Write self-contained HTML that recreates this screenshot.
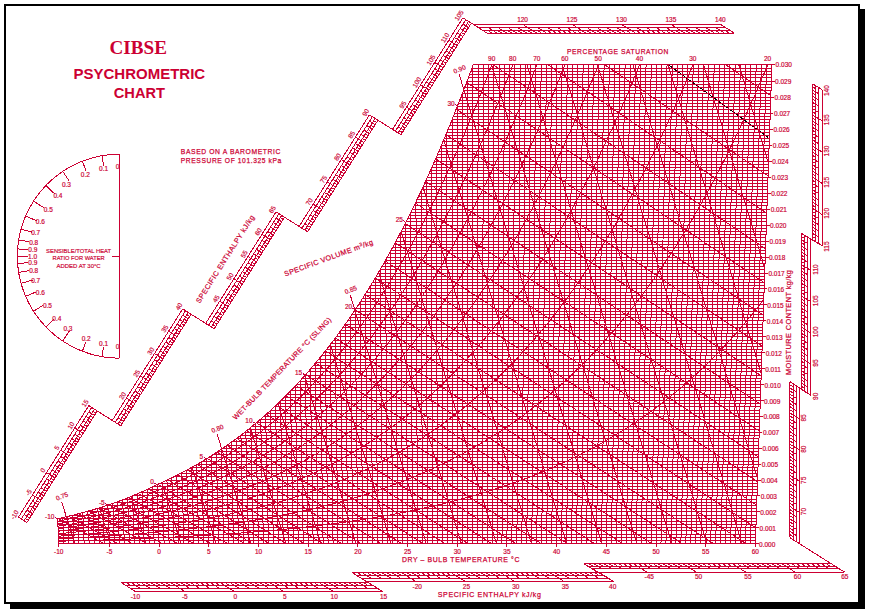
<!DOCTYPE html>
<html><head><meta charset="utf-8"><title>CIBSE Psychrometric Chart</title>
<style>
html,body{margin:0;padding:0;background:#fff;}
body{width:869px;height:611px;overflow:hidden;position:relative;}
svg{position:absolute;left:0;top:0;display:block;}
svg text{font-family:"Liberation Sans",sans-serif;fill:#CC0033;stroke:#CC0033;stroke-width:0.18px;}
svg text.sb{stroke:#CC0033;stroke-width:0.25px;letter-spacing:0.7px;}
svg text.t{stroke:none;}
svg text.rt{stroke-width:0.22px;}
</style></head><body>
<svg width="869" height="611" viewBox="0 0 869 611">
<rect x="0" y="0" width="869" height="611" fill="#fff"/>
<rect x="860" y="9" width="5" height="600" fill="#000"/>
<rect x="10" y="604" width="855" height="5" fill="#000"/>
<rect x="5" y="5" width="854" height="598" fill="#fff" stroke="#000" stroke-width="2"/>
<g fill="none" stroke="#CC0033" stroke-width="1" shape-rendering="crispEdges">
<defs><clipPath id="cp"><polygon points="57.63,518.75 60.14,518.19 62.66,517.62 65.17,517.04 67.69,516.44 70.2,515.84 72.72,515.22 75.23,514.58 77.75,513.94 80.26,513.28 82.77,512.61 85.29,511.92 87.8,511.23 90.31,510.51 92.83,509.78 95.34,509.04 97.85,508.29 100.37,507.51 102.88,506.73 105.39,505.92 107.9,505.1 110.36,504.26 112.82,503.4 115.29,502.52 117.75,501.63 120.21,500.71 122.67,499.78 125.13,498.83 127.59,497.86 130.05,496.88 132.51,495.87 134.97,494.84 137.43,493.8 139.89,492.73 142.35,491.64 144.81,490.53 147.26,489.4 149.72,488.24 152.18,487.06 154.64,485.87 157.1,484.64 159.56,483.54 162.03,482.42 164.49,481.28 166.95,480.13 169.42,478.95 171.88,477.76 174.34,476.54 176.81,475.31 179.27,474.05 181.74,472.78 184.2,471.48 186.66,470.17 189.13,468.83 191.59,467.47 194.06,466.08 196.52,464.68 198.99,463.25 201.45,461.8 203.91,460.33 206.38,458.83 208.85,457.3 211.31,455.76 213.78,454.19 216.24,452.59 218.71,450.97 221.17,449.32 223.64,447.65 226.11,445.94 228.57,444.22 231.04,442.46 233.51,440.68 235.98,438.87 238.45,437.03 240.91,435.16 243.38,433.26 245.85,431.33 248.32,429.37 250.79,427.39 253.26,425.37 255.74,423.32 258.21,421.23 260.68,419.12 263.15,416.97 265.62,414.79 268.1,412.57 270.57,410.32 273.05,408.04 275.52,405.72 278,403.37 280.47,400.98 282.95,398.55 285.43,396.09 287.91,393.58 290.39,391.04 292.87,388.47 295.35,385.85 297.83,383.19 300.31,380.49 302.79,377.76 305.28,374.98 307.76,372.15 310.25,369.29 312.74,366.38 315.22,363.43 317.71,360.44 320.2,357.4 322.69,354.31 325.19,351.18 327.68,348 330.17,344.78 332.67,341.5 335.17,338.18 337.66,334.81 340.16,331.39 342.66,327.92 345.17,324.4 347.67,320.82 350.17,317.19 352.68,313.51 355.19,309.78 357.7,305.99 360.21,302.14 362.72,298.24 365.23,294.28 367.75,290.27 370.27,286.19 372.79,282.06 375.31,277.86 377.83,273.61 380.36,269.29 382.88,264.91 385.41,260.46 387.94,255.96 390.48,251.38 393.01,246.74 395.55,242.04 398.09,237.26 400.63,232.42 403.17,227.51 405.72,222.52 408.27,217.47 410.82,212.34 413.38,207.14 415.93,201.86 418.49,196.51 421.06,191.08 423.62,185.58 426.19,179.99 428.76,174.33 431.34,168.58 433.91,162.75 436.49,156.84 439.08,150.85 441.66,144.77 444.25,138.61 446.85,132.35 449.45,126.01 452.05,119.58 454.65,113.05 457.26,106.44 459.87,99.82 462.49,93.1 465.11,86.3 467.73,79.39 470.36,72.4 472.99,65.3 473.05,64.5 771.92,64.5 755.37,543.65 58.78,543.65"/></clipPath></defs>
<g clip-path="url(#cp)">
<polyline points="668,64.5 768.3,137.5" stroke="#000" stroke-width="1"/>
<line x1="58.78" y1="543.65" x2="57.63" y2="518.75"/>
<line x1="63.85" y1="543.65" x2="62.66" y2="517.62"/>
<line x1="68.92" y1="543.65" x2="67.69" y2="516.44"/>
<line x1="73.99" y1="543.65" x2="72.72" y2="515.22"/>
<line x1="79.06" y1="543.65" x2="77.75" y2="513.94"/>
<line x1="84.12" y1="543.65" x2="82.77" y2="512.61"/>
<line x1="89.19" y1="543.65" x2="87.8" y2="511.23"/>
<line x1="94.26" y1="543.65" x2="92.83" y2="509.78"/>
<line x1="99.33" y1="543.65" x2="97.85" y2="508.29"/>
<line x1="104.4" y1="543.65" x2="102.88" y2="506.73"/>
<line x1="109.46" y1="543.65" x2="107.9" y2="505.1"/>
<line x1="114.43" y1="543.65" x2="112.82" y2="503.4"/>
<line x1="119.4" y1="543.65" x2="117.75" y2="501.63"/>
<line x1="124.37" y1="543.65" x2="122.67" y2="499.78"/>
<line x1="129.34" y1="543.65" x2="127.59" y2="497.86"/>
<line x1="134.31" y1="543.65" x2="132.51" y2="495.87"/>
<line x1="139.27" y1="543.65" x2="137.43" y2="493.8"/>
<line x1="144.24" y1="543.65" x2="142.35" y2="491.64"/>
<line x1="149.21" y1="543.65" x2="147.26" y2="489.4"/>
<line x1="154.18" y1="543.65" x2="152.18" y2="487.06"/>
<line x1="159.15" y1="543.65" x2="157.1" y2="484.64"/>
<line x1="164.12" y1="543.65" x2="162.03" y2="482.42"/>
<line x1="169.09" y1="543.65" x2="166.95" y2="480.13"/>
<line x1="174.05" y1="543.65" x2="171.88" y2="477.76"/>
<line x1="179.02" y1="543.65" x2="176.81" y2="475.31"/>
<line x1="183.99" y1="543.65" x2="181.74" y2="472.78"/>
<line x1="188.96" y1="543.65" x2="186.66" y2="470.17"/>
<line x1="193.93" y1="543.65" x2="191.59" y2="467.47"/>
<line x1="198.9" y1="543.65" x2="196.52" y2="464.68"/>
<line x1="203.87" y1="543.65" x2="201.45" y2="461.8"/>
<line x1="208.83" y1="543.65" x2="206.38" y2="458.83"/>
<line x1="213.8" y1="543.65" x2="211.31" y2="455.76"/>
<line x1="218.77" y1="543.65" x2="216.24" y2="452.59"/>
<line x1="223.74" y1="543.65" x2="221.17" y2="449.32"/>
<line x1="228.71" y1="543.65" x2="226.11" y2="445.94"/>
<line x1="233.68" y1="543.65" x2="231.04" y2="442.46"/>
<line x1="238.65" y1="543.65" x2="235.98" y2="438.87"/>
<line x1="243.61" y1="543.65" x2="240.91" y2="435.16"/>
<line x1="248.58" y1="543.65" x2="245.85" y2="431.33"/>
<line x1="253.55" y1="543.65" x2="250.79" y2="427.39"/>
<line x1="258.52" y1="543.65" x2="255.74" y2="423.32"/>
<line x1="263.49" y1="543.65" x2="260.68" y2="419.12"/>
<line x1="268.46" y1="543.65" x2="265.62" y2="414.79"/>
<line x1="273.42" y1="543.65" x2="270.57" y2="410.32"/>
<line x1="278.39" y1="543.65" x2="275.52" y2="405.72"/>
<line x1="283.36" y1="543.65" x2="280.47" y2="400.98"/>
<line x1="288.33" y1="543.65" x2="285.43" y2="396.09"/>
<line x1="293.3" y1="543.65" x2="290.39" y2="391.04"/>
<line x1="298.27" y1="543.65" x2="295.35" y2="385.85"/>
<line x1="303.24" y1="543.65" x2="300.31" y2="380.49"/>
<line x1="308.2" y1="543.65" x2="305.28" y2="374.98"/>
<line x1="313.17" y1="543.65" x2="310.25" y2="369.29"/>
<line x1="318.14" y1="543.65" x2="315.22" y2="363.43"/>
<line x1="323.11" y1="543.65" x2="320.2" y2="357.4"/>
<line x1="328.08" y1="543.65" x2="325.19" y2="351.18"/>
<line x1="333.05" y1="543.65" x2="330.17" y2="344.78"/>
<line x1="338.02" y1="543.65" x2="335.17" y2="338.18"/>
<line x1="342.98" y1="543.65" x2="340.16" y2="331.39"/>
<line x1="347.95" y1="543.65" x2="345.17" y2="324.4"/>
<line x1="352.92" y1="543.65" x2="350.17" y2="317.19"/>
<line x1="357.89" y1="543.65" x2="355.19" y2="309.78"/>
<line x1="362.86" y1="543.65" x2="360.21" y2="302.14"/>
<line x1="367.83" y1="543.65" x2="365.23" y2="294.28"/>
<line x1="372.8" y1="543.65" x2="370.27" y2="286.19"/>
<line x1="377.76" y1="543.65" x2="375.31" y2="277.86"/>
<line x1="382.73" y1="543.65" x2="380.36" y2="269.29"/>
<line x1="387.7" y1="543.65" x2="385.41" y2="260.46"/>
<line x1="392.67" y1="543.65" x2="390.48" y2="251.38"/>
<line x1="397.64" y1="543.65" x2="395.55" y2="242.04"/>
<line x1="402.61" y1="543.65" x2="400.63" y2="232.42"/>
<line x1="407.57" y1="543.65" x2="405.72" y2="222.52"/>
<line x1="412.54" y1="543.65" x2="410.82" y2="212.34"/>
<line x1="417.51" y1="543.65" x2="415.93" y2="201.86"/>
<line x1="422.48" y1="543.65" x2="421.06" y2="191.08"/>
<line x1="427.45" y1="543.65" x2="426.19" y2="179.99"/>
<line x1="432.42" y1="543.65" x2="431.34" y2="168.58"/>
<line x1="437.39" y1="543.65" x2="436.49" y2="156.84"/>
<line x1="442.35" y1="543.65" x2="441.66" y2="144.77"/>
<line x1="447.32" y1="543.65" x2="446.85" y2="132.35"/>
<line x1="452.29" y1="543.65" x2="452.05" y2="119.58"/>
<line x1="457.26" y1="543.65" x2="457.26" y2="106.44"/>
<line x1="462.23" y1="543.65" x2="462.49" y2="93.1"/>
<line x1="467.2" y1="543.65" x2="467.73" y2="79.39"/>
<line x1="472.17" y1="543.65" x2="472.99" y2="65.3"/>
<line x1="477.13" y1="543.65" x2="478.24" y2="65.15"/>
<line x1="482.1" y1="543.65" x2="483.48" y2="65.15"/>
<line x1="487.07" y1="543.65" x2="488.73" y2="65.15"/>
<line x1="492.04" y1="543.65" x2="493.97" y2="65.15"/>
<line x1="497.01" y1="543.65" x2="499.22" y2="65.15"/>
<line x1="501.98" y1="543.65" x2="504.46" y2="65.15"/>
<line x1="506.95" y1="543.65" x2="509.7" y2="65.15"/>
<line x1="511.91" y1="543.65" x2="514.95" y2="65.15"/>
<line x1="516.88" y1="543.65" x2="520.19" y2="65.15"/>
<line x1="521.85" y1="543.65" x2="525.44" y2="65.15"/>
<line x1="526.82" y1="543.65" x2="530.68" y2="65.15"/>
<line x1="531.79" y1="543.65" x2="535.93" y2="65.15"/>
<line x1="536.76" y1="543.65" x2="541.17" y2="65.15"/>
<line x1="541.72" y1="543.65" x2="546.41" y2="65.15"/>
<line x1="546.69" y1="543.65" x2="551.66" y2="65.15"/>
<line x1="551.66" y1="543.65" x2="556.9" y2="65.15"/>
<line x1="556.63" y1="543.65" x2="562.15" y2="65.15"/>
<line x1="561.6" y1="543.65" x2="567.39" y2="65.15"/>
<line x1="566.57" y1="543.65" x2="572.64" y2="65.15"/>
<line x1="571.54" y1="543.65" x2="577.88" y2="65.15"/>
<line x1="576.5" y1="543.65" x2="583.13" y2="65.15"/>
<line x1="581.47" y1="543.65" x2="588.37" y2="65.15"/>
<line x1="586.44" y1="543.65" x2="593.61" y2="65.15"/>
<line x1="591.41" y1="543.65" x2="598.86" y2="65.15"/>
<line x1="596.38" y1="543.65" x2="604.1" y2="65.15"/>
<line x1="601.35" y1="543.65" x2="609.35" y2="65.15"/>
<line x1="606.32" y1="543.65" x2="614.59" y2="65.15"/>
<line x1="611.28" y1="543.65" x2="619.84" y2="65.15"/>
<line x1="616.25" y1="543.65" x2="625.08" y2="65.15"/>
<line x1="621.22" y1="543.65" x2="630.32" y2="65.15"/>
<line x1="626.19" y1="543.65" x2="635.57" y2="65.15"/>
<line x1="631.16" y1="543.65" x2="640.81" y2="65.15"/>
<line x1="636.13" y1="543.65" x2="646.06" y2="65.15"/>
<line x1="641.1" y1="543.65" x2="651.3" y2="65.15"/>
<line x1="646.06" y1="543.65" x2="656.55" y2="65.15"/>
<line x1="651.03" y1="543.65" x2="661.79" y2="65.15"/>
<line x1="656" y1="543.65" x2="667.04" y2="65.15"/>
<line x1="660.97" y1="543.65" x2="672.28" y2="65.15"/>
<line x1="665.94" y1="543.65" x2="677.52" y2="65.15"/>
<line x1="670.91" y1="543.65" x2="682.77" y2="65.15"/>
<line x1="675.87" y1="543.65" x2="688.01" y2="65.15"/>
<line x1="680.84" y1="543.65" x2="693.26" y2="65.15"/>
<line x1="685.81" y1="543.65" x2="698.5" y2="65.15"/>
<line x1="690.78" y1="543.65" x2="703.75" y2="65.15"/>
<line x1="695.75" y1="543.65" x2="708.99" y2="65.15"/>
<line x1="700.72" y1="543.65" x2="714.23" y2="65.15"/>
<line x1="705.69" y1="543.65" x2="719.48" y2="65.15"/>
<line x1="710.65" y1="543.65" x2="724.72" y2="65.15"/>
<line x1="715.62" y1="543.65" x2="729.97" y2="65.15"/>
<line x1="720.59" y1="543.65" x2="735.21" y2="65.15"/>
<line x1="725.56" y1="543.65" x2="740.46" y2="65.15"/>
<line x1="730.53" y1="543.65" x2="745.7" y2="65.15"/>
<line x1="735.5" y1="543.65" x2="750.95" y2="65.15"/>
<line x1="740.47" y1="543.65" x2="756.19" y2="65.15"/>
<line x1="745.43" y1="543.65" x2="761.43" y2="65.15"/>
<line x1="750.4" y1="543.65" x2="766.68" y2="65.15"/>
<line x1="755.37" y1="543.65" x2="771.92" y2="65.15"/>
<line x1="58.78" y1="543.65" x2="755.37" y2="543.65"/>
<line x1="58.64" y1="540.47" x2="755.48" y2="540.47"/>
<line x1="58.49" y1="537.3" x2="755.59" y2="537.3"/>
<line x1="58.34" y1="534.12" x2="755.7" y2="534.12"/>
<line x1="58.19" y1="530.94" x2="755.81" y2="530.94"/>
<line x1="58.05" y1="527.77" x2="755.92" y2="527.77"/>
<line x1="57.9" y1="524.59" x2="756.03" y2="524.59"/>
<line x1="57.75" y1="521.41" x2="756.14" y2="521.41"/>
<line x1="59.95" y1="518.24" x2="756.25" y2="518.24"/>
<line x1="73.35" y1="515.06" x2="756.36" y2="515.06"/>
<line x1="85.44" y1="511.88" x2="756.47" y2="511.88"/>
<line x1="96.47" y1="508.7" x2="756.58" y2="508.7"/>
<line x1="106.62" y1="505.53" x2="756.7" y2="505.53"/>
<line x1="115.77" y1="502.35" x2="756.81" y2="502.35"/>
<line x1="124.27" y1="499.17" x2="756.92" y2="499.17"/>
<line x1="132.22" y1="495.99" x2="757.03" y2="495.99"/>
<line x1="139.7" y1="492.81" x2="757.14" y2="492.81"/>
<line x1="146.76" y1="489.63" x2="757.25" y2="489.63"/>
<line x1="153.44" y1="486.45" x2="757.36" y2="486.45"/>
<line x1="160.15" y1="483.27" x2="757.47" y2="483.27"/>
<line x1="167.02" y1="480.09" x2="757.58" y2="480.09"/>
<line x1="173.59" y1="476.91" x2="757.69" y2="476.91"/>
<line x1="179.89" y1="473.73" x2="757.8" y2="473.73"/>
<line x1="185.94" y1="470.55" x2="757.91" y2="470.55"/>
<line x1="191.76" y1="467.37" x2="758.02" y2="467.37"/>
<line x1="197.36" y1="464.19" x2="758.13" y2="464.19"/>
<line x1="202.77" y1="461.01" x2="758.24" y2="461.01"/>
<line x1="208" y1="457.83" x2="758.35" y2="457.83"/>
<line x1="213.05" y1="454.65" x2="758.46" y2="454.65"/>
<line x1="217.95" y1="451.47" x2="758.57" y2="451.47"/>
<line x1="222.7" y1="448.29" x2="758.68" y2="448.29"/>
<line x1="227.31" y1="445.11" x2="758.79" y2="445.11"/>
<line x1="231.79" y1="441.92" x2="758.9" y2="441.92"/>
<line x1="236.15" y1="438.74" x2="759.01" y2="438.74"/>
<line x1="240.39" y1="435.56" x2="759.12" y2="435.56"/>
<line x1="244.52" y1="432.38" x2="759.23" y2="432.38"/>
<line x1="248.55" y1="429.2" x2="759.34" y2="429.2"/>
<line x1="252.48" y1="426.01" x2="759.45" y2="426.01"/>
<line x1="256.32" y1="422.83" x2="759.56" y2="422.83"/>
<line x1="260.06" y1="419.65" x2="759.67" y2="419.65"/>
<line x1="263.73" y1="416.46" x2="759.78" y2="416.46"/>
<line x1="267.31" y1="413.28" x2="759.9" y2="413.28"/>
<line x1="270.82" y1="410.1" x2="760.01" y2="410.1"/>
<line x1="274.26" y1="406.91" x2="760.12" y2="406.91"/>
<line x1="277.62" y1="403.73" x2="760.23" y2="403.73"/>
<line x1="280.92" y1="400.54" x2="760.34" y2="400.54"/>
<line x1="284.15" y1="397.36" x2="760.45" y2="397.36"/>
<line x1="287.33" y1="394.17" x2="760.56" y2="394.17"/>
<line x1="290.44" y1="390.99" x2="760.67" y2="390.99"/>
<line x1="293.5" y1="387.8" x2="760.78" y2="387.8"/>
<line x1="296.5" y1="384.62" x2="760.89" y2="384.62"/>
<line x1="299.45" y1="381.43" x2="761" y2="381.43"/>
<line x1="302.35" y1="378.25" x2="761.11" y2="378.25"/>
<line x1="305.2" y1="375.06" x2="761.22" y2="375.06"/>
<line x1="308.01" y1="371.88" x2="761.33" y2="371.88"/>
<line x1="310.77" y1="368.69" x2="761.44" y2="368.69"/>
<line x1="313.48" y1="365.5" x2="761.55" y2="365.5"/>
<line x1="316.15" y1="362.32" x2="761.66" y2="362.32"/>
<line x1="318.79" y1="359.13" x2="761.77" y2="359.13"/>
<line x1="321.38" y1="355.94" x2="761.88" y2="355.94"/>
<line x1="323.94" y1="352.76" x2="761.99" y2="352.76"/>
<line x1="326.45" y1="349.57" x2="762.1" y2="349.57"/>
<line x1="328.94" y1="346.38" x2="762.21" y2="346.38"/>
<line x1="331.38" y1="343.19" x2="762.32" y2="343.19"/>
<line x1="333.8" y1="340.01" x2="762.43" y2="340.01"/>
<line x1="336.18" y1="336.82" x2="762.54" y2="336.82"/>
<line x1="338.53" y1="333.63" x2="762.65" y2="333.63"/>
<line x1="340.85" y1="330.44" x2="762.76" y2="330.44"/>
<line x1="343.14" y1="327.25" x2="762.87" y2="327.25"/>
<line x1="345.4" y1="324.06" x2="762.98" y2="324.06"/>
<line x1="347.63" y1="320.88" x2="763.1" y2="320.88"/>
<line x1="349.84" y1="317.69" x2="763.21" y2="317.69"/>
<line x1="352.01" y1="314.5" x2="763.32" y2="314.5"/>
<line x1="354.16" y1="311.31" x2="763.43" y2="311.31"/>
<line x1="356.29" y1="308.12" x2="763.54" y2="308.12"/>
<line x1="358.39" y1="304.93" x2="763.65" y2="304.93"/>
<line x1="360.47" y1="301.74" x2="763.76" y2="301.74"/>
<line x1="362.52" y1="298.55" x2="763.87" y2="298.55"/>
<line x1="364.55" y1="295.36" x2="763.98" y2="295.36"/>
<line x1="366.56" y1="292.17" x2="764.09" y2="292.17"/>
<line x1="368.55" y1="288.98" x2="764.2" y2="288.98"/>
<line x1="370.52" y1="285.78" x2="764.31" y2="285.78"/>
<line x1="372.46" y1="282.59" x2="764.42" y2="282.59"/>
<line x1="374.39" y1="279.4" x2="764.53" y2="279.4"/>
<line x1="376.29" y1="276.21" x2="764.64" y2="276.21"/>
<line x1="378.18" y1="273.02" x2="764.75" y2="273.02"/>
<line x1="380.04" y1="269.83" x2="764.86" y2="269.83"/>
<line x1="381.89" y1="266.63" x2="764.97" y2="266.63"/>
<line x1="383.72" y1="263.44" x2="765.08" y2="263.44"/>
<line x1="385.53" y1="260.25" x2="765.19" y2="260.25"/>
<line x1="387.33" y1="257.06" x2="765.3" y2="257.06"/>
<line x1="389.1" y1="253.86" x2="765.41" y2="253.86"/>
<line x1="390.87" y1="250.67" x2="765.52" y2="250.67"/>
<line x1="392.61" y1="247.48" x2="765.63" y2="247.48"/>
<line x1="394.34" y1="244.28" x2="765.74" y2="244.28"/>
<line x1="396.05" y1="241.09" x2="765.85" y2="241.09"/>
<line x1="397.75" y1="237.9" x2="765.96" y2="237.9"/>
<line x1="399.44" y1="234.7" x2="766.07" y2="234.7"/>
<line x1="401.1" y1="231.51" x2="766.19" y2="231.51"/>
<line x1="402.76" y1="228.31" x2="766.3" y2="228.31"/>
<line x1="404.4" y1="225.12" x2="766.41" y2="225.12"/>
<line x1="406.02" y1="221.92" x2="766.52" y2="221.92"/>
<line x1="407.64" y1="218.73" x2="766.63" y2="218.73"/>
<line x1="409.24" y1="215.53" x2="766.74" y2="215.53"/>
<line x1="410.82" y1="212.34" x2="766.85" y2="212.34"/>
<line x1="412.4" y1="209.14" x2="766.96" y2="209.14"/>
<line x1="413.96" y1="205.95" x2="767.07" y2="205.95"/>
<line x1="415.5" y1="202.75" x2="767.18" y2="202.75"/>
<line x1="417.04" y1="199.56" x2="767.29" y2="199.56"/>
<line x1="418.56" y1="196.36" x2="767.4" y2="196.36"/>
<line x1="420.08" y1="193.16" x2="767.51" y2="193.16"/>
<line x1="421.58" y1="189.97" x2="767.62" y2="189.97"/>
<line x1="423.07" y1="186.77" x2="767.73" y2="186.77"/>
<line x1="424.55" y1="183.57" x2="767.84" y2="183.57"/>
<line x1="426.01" y1="180.37" x2="767.95" y2="180.37"/>
<line x1="427.47" y1="177.18" x2="768.06" y2="177.18"/>
<line x1="428.92" y1="173.98" x2="768.17" y2="173.98"/>
<line x1="430.35" y1="170.78" x2="768.28" y2="170.78"/>
<line x1="431.78" y1="167.58" x2="768.39" y2="167.58"/>
<line x1="433.19" y1="164.39" x2="768.5" y2="164.39"/>
<line x1="434.6" y1="161.19" x2="768.61" y2="161.19"/>
<line x1="436" y1="157.99" x2="768.72" y2="157.99"/>
<line x1="437.38" y1="154.79" x2="768.83" y2="154.79"/>
<line x1="438.76" y1="151.59" x2="768.94" y2="151.59"/>
<line x1="440.13" y1="148.39" x2="769.05" y2="148.39"/>
<line x1="441.49" y1="145.19" x2="769.16" y2="145.19"/>
<line x1="442.84" y1="141.99" x2="769.27" y2="141.99"/>
<line x1="444.18" y1="138.79" x2="769.39" y2="138.79"/>
<line x1="445.51" y1="135.59" x2="769.5" y2="135.59"/>
<line x1="446.83" y1="132.39" x2="769.61" y2="132.39"/>
<line x1="448.15" y1="129.19" x2="769.72" y2="129.19"/>
<line x1="449.45" y1="125.99" x2="769.83" y2="125.99"/>
<line x1="450.75" y1="122.79" x2="769.94" y2="122.79"/>
<line x1="452.04" y1="119.59" x2="770.05" y2="119.59"/>
<line x1="453.32" y1="116.39" x2="770.16" y2="116.39"/>
<line x1="454.6" y1="113.19" x2="770.27" y2="113.19"/>
<line x1="455.86" y1="109.99" x2="770.38" y2="109.99"/>
<line x1="457.12" y1="106.79" x2="770.49" y2="106.79"/>
<line x1="458.39" y1="103.58" x2="770.6" y2="103.58"/>
<line x1="459.65" y1="100.38" x2="770.71" y2="100.38"/>
<line x1="460.9" y1="97.18" x2="770.82" y2="97.18"/>
<line x1="462.15" y1="93.98" x2="770.93" y2="93.98"/>
<line x1="463.39" y1="90.78" x2="771.04" y2="90.78"/>
<line x1="464.62" y1="87.57" x2="771.15" y2="87.57"/>
<line x1="465.84" y1="84.37" x2="771.26" y2="84.37"/>
<line x1="467.06" y1="81.17" x2="771.37" y2="81.17"/>
<line x1="468.27" y1="77.96" x2="771.48" y2="77.96"/>
<line x1="469.48" y1="74.76" x2="771.59" y2="74.76"/>
<line x1="470.67" y1="71.56" x2="771.7" y2="71.56"/>
<line x1="471.86" y1="68.35" x2="771.81" y2="68.35"/>
<polyline points="58.67,541.16 63.73,541.05 68.8,540.93 73.86,540.81 78.93,540.68 83.99,540.55 89.05,540.41 94.12,540.26 99.18,540.11 104.24,539.96 109.31,539.8 114.27,539.63 119.24,539.45 124.2,539.26 129.16,539.07 134.13,538.87 139.09,538.67 144.05,538.45 149.02,538.23 153.98,537.99 158.94,537.75 163.91,537.53 168.87,537.3 173.84,537.06 178.8,536.82 183.77,536.57 188.73,536.31 193.69,536.04 198.66,535.76 203.62,535.47 208.59,535.17 213.55,534.87 218.52,534.55 223.48,534.22 228.45,533.89 233.41,533.54 238.38,533.18 243.34,532.81 248.31,532.43 253.27,532.03 258.24,531.63 263.21,531.21 268.17,530.78 273.14,530.33 278.11,529.87 283.07,529.4 288.04,528.91 293.01,528.41 297.98,527.89 302.94,527.36 307.91,526.81 312.88,526.24 317.85,525.66 322.82,525.05 327.79,524.43 332.76,523.8 337.73,523.14 342.7,522.46 347.67,521.76 352.65,521.05 357.62,520.31 362.59,519.55 367.57,518.77 372.54,517.96 377.52,517.13 382.49,516.28 387.47,515.4 392.45,514.49 397.43,513.56 402.41,512.61 407.39,511.62 412.37,510.61 417.35,509.57 422.34,508.5 427.32,507.39 432.31,506.26 437.3,505.09 442.29,503.89 447.28,502.66 452.27,501.39 457.26,500.09 462.25,498.76 467.25,497.4 472.25,496.01 477.25,494.57 482.25,493.09 487.25,491.57 492.26,490.01 497.26,488.41 502.27,486.76 507.28,485.07 512.3,483.33 517.31,481.54 522.33,479.7 527.35,477.82 532.38,475.88 537.4,473.88 542.43,471.83 547.46,469.73 552.5,467.57 557.54,465.34 562.58,463.06 567.62,460.71 572.67,458.3 577.72,455.82 582.78,453.27 587.84,450.65 592.9,447.96 597.97,445.2 603.05,442.35 608.12,439.43 613.21,436.43 618.29,433.34 623.39,430.17 628.49,426.9 633.59,423.55 638.7,420.09 643.82,416.55 648.94,412.9 654.07,409.14 659.2,405.28 664.34,401.31 669.49,397.23 674.65,393.03 679.82,388.7 684.99,384.25 690.17,379.67 695.36,374.96 700.56,370.11 705.78,365.11 711,359.97 716.23,354.67 721.47,349.21 726.72,343.59 731.98,337.8 737.26,331.83 742.55,325.68 747.85,319.34 753.17,312.81 758.5,306.07 763.85,299.11" stroke-width="1"/>
<polyline points="58.55,538.67 63.61,538.45 68.67,538.21 73.73,537.96 78.79,537.71 83.85,537.44 88.91,537.17 93.97,536.88 99.03,536.58 104.09,536.27 109.15,535.94 114.11,535.6 119.07,535.25 124.03,534.88 128.99,534.5 133.95,534.1 138.91,533.68 143.86,533.25 148.82,532.8 153.78,532.34 158.74,531.85 163.7,531.41 168.66,530.95 173.62,530.48 178.58,529.99 183.54,529.48 188.5,528.96 193.46,528.42 198.42,527.86 203.38,527.29 208.34,526.7 213.3,526.08 218.27,525.45 223.23,524.8 228.19,524.12 233.15,523.43 238.11,522.71 243.07,521.97 248.04,521.21 253,520.42 257.96,519.6 262.93,518.77 267.89,517.9 272.85,517.01 277.82,516.09 282.78,515.15 287.75,514.17 292.72,513.16 297.68,512.13 302.65,511.06 307.62,509.96 312.59,508.82 317.56,507.65 322.53,506.45 327.5,505.21 332.47,503.93 337.45,502.62 342.42,501.26 347.4,499.87 352.37,498.43 357.35,496.96 362.33,495.44 367.31,493.87 372.29,492.26 377.27,490.6 382.26,488.89 387.24,487.13 392.23,485.32 397.22,483.46 402.21,481.55 407.2,479.58 412.2,477.55 417.2,475.47 422.2,473.32 427.2,471.11 432.2,468.84 437.21,466.51 442.22,464.11 447.23,461.64 452.24,459.1 457.26,456.49 462.28,453.84 467.3,451.12 472.33,448.32 477.36,445.44 482.4,442.48 487.43,439.45 492.47,436.32 497.52,433.11 502.57,429.81 507.62,426.42 512.68,422.94 517.74,419.36 522.81,415.68 527.89,411.9 532.96,408.02 538.05,404.03 543.14,399.92 548.23,395.71 553.33,391.38 558.44,386.92 563.56,382.35 568.68,377.65 573.81,372.81 578.94,367.85 584.09,362.74 589.24,357.5 594.4,352.11 599.57,346.57 604.75,340.87 609.93,335.01 615.13,328.99 620.34,322.8 625.55,316.44 630.78,309.9 636.02,303.17 641.27,296.26 646.54,289.14 651.81,281.83 657.1,274.3 662.4,266.56 667.72,258.6 673.05,250.41 678.4,241.98 683.76,233.31 689.14,224.38 694.53,215.2 699.95,205.74 705.38,196.01 710.83,185.98 716.3,175.66 721.8,165.03 727.31,154.08 732.85,142.79 738.41,131.17 743.99,119.19 749.6,106.84 755.24,94.11 760.91,80.98 766.6,67.44 772.33,53.47" stroke-width="1"/>
<polyline points="58.44,536.18 63.49,535.84 68.55,535.49 73.61,535.12 78.66,534.74 83.72,534.34 88.77,533.92 93.83,533.49 98.89,533.04 103.94,532.58 109,532.09 113.95,531.58 118.9,531.05 123.86,530.49 128.81,529.92 133.77,529.32 138.72,528.7 143.67,528.05 148.63,527.38 153.58,526.68 158.53,525.95 163.49,525.29 168.45,524.6 173.4,523.89 178.36,523.16 183.31,522.4 188.27,521.62 193.23,520.81 198.18,519.97 203.14,519.11 208.1,518.22 213.06,517.3 218.01,516.35 222.97,515.37 227.93,514.36 232.89,513.31 237.85,512.24 242.8,511.13 247.76,509.98 252.72,508.8 257.68,507.58 262.65,506.32 267.61,505.02 272.57,503.69 277.53,502.31 282.5,500.89 287.46,499.42 292.43,497.91 297.39,496.36 302.36,494.75 307.33,493.1 312.3,491.4 317.27,489.65 322.24,487.84 327.21,485.98 332.18,484.07 337.16,482.09 342.14,480.06 347.12,477.97 352.1,475.81 357.08,473.59 362.06,471.31 367.05,468.96 372.04,466.54 377.03,464.05 382.02,461.49 387.01,458.85 392.01,456.14 397.01,453.34 402.01,450.47 407.02,447.51 412.03,444.47 417.04,441.34 422.05,438.12 427.07,434.81 432.09,431.4 437.12,427.9 442.15,424.3 447.18,420.59 452.22,416.78 457.26,412.86 462.31,408.88 467.36,404.79 472.41,400.59 477.47,396.27 482.54,391.83 487.61,387.27 492.69,382.58 497.78,377.76 502.87,372.81 507.96,367.72 513.07,362.49 518.18,357.11 523.29,351.59 528.42,345.91 533.55,340.07 538.69,334.08 543.84,327.92 549,321.58 554.17,315.08 559.35,308.39 564.54,301.52 569.73,294.45 574.94,287.19 580.16,279.73 585.39,272.06 590.64,264.18 595.89,256.08 601.16,247.75 606.45,239.19 611.74,230.39 617.05,221.34 622.38,212.04 627.72,202.48 633.08,192.64 638.45,182.53 643.84,172.13 649.26,161.44 654.68,150.44 660.13,139.13 665.6,127.49 671.09,115.51 676.61,103.19 682.14,90.52 687.7,77.47 693.29,64.04 698.9,50.22" stroke-width="1"/>
<polyline points="58.32,533.69 63.38,533.24 68.43,532.77 73.48,532.28 78.53,531.77 83.58,531.24 88.64,530.68 93.69,530.11 98.74,529.51 103.79,528.88 108.84,528.23 113.79,527.55 118.74,526.84 123.69,526.11 128.64,525.34 133.59,524.54 138.54,523.71 143.48,522.85 148.43,521.95 153.38,521.02 158.33,520.05 163.28,519.17 168.23,518.25 173.18,517.3 178.14,516.32 183.09,515.31 188.04,514.27 192.99,513.19 197.95,512.08 202.9,510.92 207.85,509.74 212.81,508.51 217.76,507.24 222.71,505.94 227.67,504.59 232.62,503.2 237.58,501.76 242.53,500.28 247.49,498.75 252.45,497.17 257.41,495.55 262.36,493.87 267.32,492.14 272.28,490.36 277.24,488.52 282.21,486.63 287.17,484.67 292.13,482.66 297.1,480.58 302.07,478.45 307.03,476.24 312,473.97 316.97,471.64 321.95,469.23 326.92,466.74 331.9,464.19 336.88,461.56 341.86,458.85 346.84,456.06 351.82,453.18 356.81,450.22 361.8,447.18 366.79,444.04 371.78,440.81 376.78,437.49 381.78,434.07 386.78,430.55 391.79,426.93 396.8,423.21 401.82,419.37 406.83,415.43 411.85,411.37 416.88,407.19 421.91,402.9 426.95,398.48 431.98,393.93 437.03,389.26 442.08,384.45 447.13,379.51 452.19,374.42 457.26,369.19 462.33,363.88 467.41,358.43 472.5,352.82 477.59,347.05 482.69,341.13 487.79,335.04 492.91,328.78 498.03,322.35 503.16,315.74 508.3,308.94 513.45,301.96 518.61,294.79 523.78,287.41 528.95,279.83 534.14,272.04 539.34,264.04 544.55,255.81 549.77,247.36 555.01,238.67 560.26,229.74 565.52,220.56 570.79,211.13 576.08,201.44 581.38,191.47 586.7,181.23 592.04,170.7 597.39,159.88 602.76,148.76 608.14,137.32 613.55,125.57 618.98,113.48 624.42,101.05 629.89,88.28 635.37,75.14 640.88,61.62 646.42,47.73" stroke-width="1"/>
<polyline points="58.21,531.2 63.26,530.64 68.31,530.05 73.35,529.44 78.4,528.8 83.45,528.13 88.5,527.44 93.54,526.72 98.59,525.97 103.64,525.19 108.68,524.38 113.63,523.53 118.57,522.64 123.52,521.72 128.46,520.76 133.41,519.77 138.35,518.73 143.3,517.65 148.24,516.53 153.18,515.36 158.12,514.15 163.07,513.04 168.02,511.9 172.97,510.71 177.92,509.49 182.86,508.23 187.81,506.92 192.76,505.57 197.71,504.18 202.66,502.74 207.61,501.26 212.56,499.72 217.51,498.14 222.46,496.51 227.41,494.82 232.36,493.08 237.31,491.28 242.26,489.43 247.22,487.52 252.17,485.55 257.13,483.52 262.08,481.42 267.04,479.26 272,477.03 276.96,474.73 281.92,472.36 286.88,469.92 291.84,467.4 296.81,464.81 301.77,462.13 306.74,459.38 311.71,456.54 316.68,453.62 321.66,450.6 326.63,447.5 331.61,444.31 336.59,441.01 341.57,437.62 346.56,434.13 351.55,430.54 356.54,426.84 361.53,423.03 366.53,419.11 371.53,415.07 376.54,410.92 381.54,406.64 386.56,402.24 391.57,397.71 396.59,393.05 401.62,388.26 406.65,383.32 411.68,378.25 416.72,373.03 421.77,367.65 426.82,362.13 431.88,356.44 436.94,350.59 442.01,344.58 447.09,338.39 452.17,332.03 457.26,325.49 462.36,318.85 467.46,312.02 472.58,305 477.7,297.79 482.83,290.38 487.98,282.76 493.13,274.93 498.29,266.88 503.46,258.61 508.64,250.11 513.83,241.37 519.04,232.39 524.26,223.16 529.49,213.68 534.73,203.93 539.99,193.91 545.26,183.62 550.54,173.03 555.84,162.16 561.16,150.98 566.5,139.49 571.85,127.68 577.22,115.55 582.6,103.07 588.01,90.25 593.44,77.07 598.88,63.52 604.35,49.59" stroke-width="1"/>
<polyline points="58.09,528.71 63.14,528.03 68.18,527.33 73.23,526.59 78.27,525.83 83.31,525.03 88.36,524.2 93.4,523.33 98.44,522.43 103.48,521.5 108.53,520.53 113.47,519.5 118.41,518.44 123.35,517.33 128.29,516.18 133.23,514.99 138.17,513.74 143.11,512.45 148.04,511.1 152.98,509.71 157.92,508.25 162.86,506.92 167.81,505.54 172.75,504.12 177.69,502.66 182.64,501.14 187.58,499.57 192.53,497.95 197.47,496.28 202.42,494.55 207.36,492.77 212.31,490.93 217.25,489.03 222.2,487.07 227.15,485.05 232.1,482.96 237.04,480.8 241.99,478.58 246.94,476.29 251.9,473.92 256.85,471.48 261.8,468.97 266.76,466.37 271.71,463.69 276.67,460.94 281.63,458.09 286.59,455.16 291.55,452.14 296.52,449.02 301.48,445.82 306.45,442.51 311.42,439.1 316.39,435.59 321.37,431.98 326.34,428.25 331.32,424.41 336.31,420.46 341.29,416.39 346.28,412.2 351.27,407.89 356.27,403.45 361.27,398.88 366.27,394.17 371.28,389.32 376.29,384.33 381.31,379.2 386.33,373.92 391.35,368.48 396.38,362.88 401.42,357.13 406.46,351.2 411.51,345.11 416.56,338.84 421.63,332.38 426.69,325.75 431.77,318.92 436.85,311.9 441.94,304.68 447.04,297.25 452.14,289.61 457.26,281.75 462.38,273.77 467.52,265.57 472.66,257.15 477.82,248.49 482.98,239.58 488.16,230.43 493.34,221.03 498.54,211.36 503.75,201.42 508.98,191.21 514.22,180.71 519.47,169.92 524.74,158.84 530.02,147.44 535.32,135.73 540.63,123.69 545.96,111.32 551.31,98.61 556.68,85.54 562.07,72.1 567.47,58.3 572.9,44.11" stroke-width="1"/>
<polyline points="57.98,526.22 63.02,525.43 68.06,524.61 73.1,523.75 78.14,522.85 83.18,521.92 88.22,520.95 93.26,519.95 98.3,518.9 103.33,517.81 108.37,516.67 113.31,515.48 118.24,514.24 123.18,512.95 128.11,511.6 133.05,510.21 137.98,508.76 142.92,507.25 147.85,505.68 152.78,504.05 157.71,502.35 162.65,500.79 167.59,499.19 172.53,497.53 177.47,495.82 182.41,494.05 187.35,492.22 192.29,490.33 197.23,488.38 202.17,486.37 207.12,484.29 212.06,482.14 217,479.92 221.94,477.64 226.89,475.27 231.83,472.84 236.78,470.32 241.72,467.73 246.67,465.05 251.62,462.29 256.57,459.44 261.52,456.51 266.47,453.48 271.43,450.36 276.38,447.14 281.34,443.82 286.3,440.4 291.26,436.87 296.22,433.24 301.19,429.49 306.16,425.63 311.13,421.66 316.1,417.56 321.08,413.34 326.05,408.99 331.04,404.52 336.02,399.91 341.01,395.16 346,390.27 351,385.23 356,380.05 361,374.71 366.01,369.21 371.03,363.56 376.04,357.74 381.07,351.74 386.1,345.58 391.13,339.23 396.17,332.7 401.22,325.98 406.28,319.06 411.34,311.95 416.41,304.62 421.48,297.09 426.57,289.35 431.66,281.38 436.76,273.18 441.87,264.74 446.99,256.07 452.12,247.15 457.26,237.97 462.41,228.66 467.57,219.09 472.74,209.25 477.93,199.14 483.13,188.74 488.34,178.05 493.56,167.07 498.8,155.78 504.05,144.17 509.32,132.24 514.6,119.99 519.9,107.39 525.22,94.43 530.55,81.12 535.91,67.44 541.28,53.38" stroke-width="1"/>
<polyline points="57.86,523.73 62.9,522.83 67.94,521.89 72.97,520.9 78.01,519.88 83.04,518.82 88.08,517.71 93.11,516.56 98.15,515.36 103.18,514.11 108.21,512.82 113.15,511.45 118.08,510.03 123.01,508.56 127.94,507.03 132.87,505.43 137.8,503.77 142.73,502.04 147.65,500.25 152.58,498.39 157.51,496.44 162.44,494.67 167.38,492.84 172.32,490.94 177.25,488.98 182.19,486.96 187.12,484.87 192.06,482.71 197,480.48 201.93,478.18 206.87,475.8 211.81,473.35 216.75,470.81 221.69,468.2 226.63,465.5 231.57,462.71 236.51,459.84 241.45,456.87 246.4,453.81 251.34,450.66 256.29,447.4 261.24,444.05 266.19,440.59 271.14,437.02 276.1,433.34 281.05,429.54 286.01,425.63 290.97,421.6 295.93,417.45 300.9,413.16 305.86,408.75 310.83,404.21 315.81,399.52 320.78,394.7 325.76,389.73 330.75,384.61 335.74,379.34 340.73,373.91 345.72,368.32 350.72,362.56 355.73,356.63 360.74,350.53 365.75,344.25 370.77,337.78 375.8,331.12 380.83,324.27 385.87,317.22 390.91,309.96 395.97,302.49 401.02,294.81 406.09,286.9 411.17,278.76 416.25,270.39 421.34,261.78 426.44,252.92 431.55,243.8 436.67,234.43 441.8,224.78 446.94,214.86 452.1,204.66 457.26,194.16 462.44,183.51 467.63,172.56 472.83,161.31 478.04,149.74 483.27,137.85 488.52,125.62 493.78,113.06 499.05,100.14 504.35,86.86 509.66,73.22 514.99,59.19 520.33,44.77" stroke-width="1"/>
<polyline points="57.74,521.24 62.78,520.22 67.81,519.16 72.85,518.06 77.88,516.91 82.91,515.71 87.94,514.47 92.97,513.17 98,511.82 103.03,510.42 108.06,508.96 112.99,507.43 117.91,505.83 122.84,504.17 127.76,502.45 132.69,500.65 137.61,498.78 142.54,496.84 147.46,494.82 152.38,492.73 157.3,490.54 162.24,488.54 167.17,486.48 172.1,484.35 177.03,482.15 181.96,479.87 186.89,477.52 191.83,475.09 196.76,472.58 201.69,469.99 206.63,467.32 211.56,464.55 216.5,461.7 221.43,458.76 226.37,455.72 231.31,452.59 236.24,449.35 241.18,446.02 246.13,442.58 251.07,439.02 256.01,435.36 260.96,431.58 265.91,427.69 270.86,423.67 275.81,419.53 280.76,415.26 285.72,410.86 290.68,406.32 295.64,401.65 300.6,396.83 305.57,391.87 310.54,386.75 315.52,381.48 320.49,376.05 325.48,370.46 330.46,364.7 335.45,358.76 340.44,352.65 345.44,346.36 350.45,339.88 355.46,333.21 360.47,326.34 365.49,319.27 370.52,311.99 375.55,304.5 380.59,296.79 385.64,288.85 390.69,280.68 395.76,272.27 400.83,263.62 405.91,254.72 410.99,245.56 416.09,236.14 421.2,226.44 426.32,216.47 431.44,206.21 436.58,195.65 441.73,184.79 446.9,173.62 452.07,162.13 457.26,150.32 462.46,138.33 467.68,126 472.91,113.33 478.16,100.3 483.42,86.91 488.7,73.14 494,58.99 499.31,44.45" stroke-width="1"/>
<polyline points="-5.08,291.09 -1.97,300.93 1.15,310.76 4.25,320.56 7.35,330.34 10.44,340.1 13.53,349.85 16.6,359.57 19.67,369.27 22.74,378.95 25.8,388.6 28.85,398.24 31.89,407.86 34.93,417.46 37.97,427.04 40.99,436.6 44.01,446.14 47.02,455.66 50.03,465.16 53.03,474.64 56.02,484.1 59.01,493.54 61.99,502.96 64.96,512.36 67.93,521.74 70.89,531.1 73.85,540.45 76.79,549.77 79.74,559.07 82.67,568.36" stroke-width="1"/>
<polyline points="-12.15,155.24 -8.99,165.24 -5.83,175.22 -2.68,185.18 0.47,195.11 3.6,205.03 6.73,214.93 9.86,224.8 12.98,234.65 16.09,244.49 19.19,254.3 22.29,264.09 25.38,273.86 28.46,283.61 31.54,293.35 34.61,303.06 37.68,312.75 40.73,322.42 43.79,332.07 46.83,341.69 49.87,351.3 52.9,360.89 55.92,370.46 58.94,380.01 61.96,389.54 64.96,399.05 67.96,408.55 70.95,418.02 73.94,427.47 76.92,436.9 79.9,446.31 82.86,455.71 85.82,465.08 88.78,474.44 91.73,483.77 94.67,493.09 97.61,502.39 100.54,511.67 103.46,520.93 106.38,530.17 109.29,539.39 112.15,548.59 115,557.78 117.84,566.94" stroke-width="1"/>
<polyline points="-12.81,39.34 -9.61,49.46 -6.42,59.55 -3.23,69.62 -0.06,79.67 3.11,89.7 6.28,99.71 9.43,109.7 12.58,119.66 15.73,129.61 18.86,139.53 21.99,149.44 25.12,159.32 28.23,169.18 31.34,179.02 34.45,188.84 37.54,198.65 40.63,208.43 43.72,218.19 46.79,227.93 49.86,237.65 52.93,247.34 55.98,257.02 59.03,266.68 62.08,276.32 65.11,285.94 68.15,295.54 71.17,305.12 74.19,314.68 77.2,324.22 80.21,333.74 83.2,343.24 86.2,352.73 89.18,362.19 92.16,371.63 95.14,381.05 98.1,390.46 101.07,399.84 104.02,409.21 106.92,418.56 109.81,427.89 112.7,437.19 115.58,446.49 118.45,455.76 121.32,465.01 124.18,474.24 127.04,483.46 129.89,492.65 132.73,501.83 135.57,510.99 138.4,520.13 141.23,529.26 144.05,538.36 146.86,547.45 149.67,556.51 152.48,565.56 155.27,574.6" stroke-width="1"/>
<polyline points="21.85,34.98 25.01,44.97 28.16,54.94 31.3,64.9 34.43,74.83 37.56,84.74 40.68,94.63 43.8,104.5 46.91,114.35 50.01,124.18 53.1,133.99 56.19,143.78 59.27,153.54 62.35,163.29 65.42,173.02 68.48,182.73 71.54,192.42 74.59,202.08 77.63,211.73 80.67,221.36 83.7,230.97 86.72,240.56 89.74,250.13 92.75,259.68 95.75,269.21 98.75,278.72 101.69,288.21 104.63,297.68 107.56,307.13 110.48,316.57 113.39,325.98 116.3,335.38 119.21,344.75 122.11,354.11 125,363.45 127.88,372.77 130.76,382.07 133.64,391.35 136.51,400.61 139.37,409.86 142.22,419.08 145.07,428.29 147.92,437.48 150.76,446.65 153.59,455.8 156.42,464.94 159.24,474.05 162.05,483.15 164.86,492.23 167.66,501.29 170.46,510.34 173.25,519.36 176.04,528.37 178.82,537.36 181.59,546.33 184.36,555.28 187.13,564.22 189.88,573.14" stroke-width="1"/>
<polyline points="59.67,40.6 62.77,50.45 65.87,60.29 68.97,70.1 72.05,79.9 75.13,89.68 78.21,99.43 81.28,109.17 84.34,118.88 87.39,128.58 90.44,138.25 93.48,147.91 96.46,157.54 99.44,167.16 102.41,176.76 105.38,186.34 108.34,195.89 111.29,205.43 114.23,214.95 117.17,224.45 120.11,233.93 123.04,243.39 125.96,252.84 128.87,262.26 131.78,271.66 134.69,281.05 137.58,290.42 140.48,299.76 143.36,309.09 146.24,318.4 149.11,327.69 151.98,336.97 154.84,346.22 157.7,355.46 160.55,364.68 163.39,373.88 166.23,383.06 169.06,392.22 171.89,401.36 174.71,410.49 177.52,419.6 180.33,428.69 183.14,437.76 185.93,446.81 188.73,455.85 191.51,464.87 194.29,473.87 197.07,482.85 199.84,491.82 202.6,500.77 205.36,509.69 208.11,518.61 210.86,527.5 213.6,536.38 216.33,545.24 219.06,554.08 221.79,562.91 224.5,571.72" stroke-width="1"/>
<polyline points="94.26,36.33 97.27,46.07 100.28,55.79 103.28,65.49 106.27,75.18 109.26,84.84 112.24,94.48 115.22,104.11 118.19,113.71 121.15,123.3 124.11,132.86 127.06,142.41 130,151.93 132.94,161.44 135.88,170.93 138.8,180.4 141.72,189.85 144.64,199.28 147.55,208.69 150.45,218.09 153.35,227.46 156.24,236.82 159.12,246.16 162,255.48 164.87,264.78 167.74,274.06 170.6,283.32 173.46,292.57 176.31,301.79 179.15,311 181.99,320.19 184.82,329.37 187.64,338.52 190.47,347.66 193.28,356.77 196.09,365.87 198.89,374.96 201.69,384.02 204.48,393.07 207.27,402.09 210.05,411.1 212.82,420.1 215.59,429.07 218.35,438.03 221.11,446.97 223.86,455.9 226.61,464.8 229.35,473.69 232.09,482.56 234.82,491.41 237.54,500.25 240.26,509.07 242.97,517.87 245.68,526.66 248.38,535.43 251.08,544.18 253.77,552.91 256.46,561.63 259.14,570.33" stroke-width="1"/>
<polyline points="131.28,41.79 134.25,51.4 137.21,60.99 140.16,70.56 143.11,80.12 146.06,89.65 148.99,99.17 151.93,108.66 154.85,118.14 157.77,127.6 160.68,137.03 163.59,146.46 166.49,155.86 169.39,165.24 172.28,174.6 175.16,183.95 178.04,193.28 180.91,202.58 183.78,211.87 186.64,221.15 189.49,230.4 192.34,239.63 195.18,248.85 198.02,258.05 200.85,267.23 203.68,276.39 206.5,285.54 209.31,294.67 212.12,303.77 214.92,312.87 217.72,321.94 220.51,330.99 223.29,340.03 226.07,349.05 228.85,358.05 231.62,367.04 234.38,376.01 237.14,384.96 239.89,393.89 242.64,402.81 245.38,411.71 248.11,420.59 250.84,429.45 253.57,438.3 256.29,447.13 259,455.94 261.71,464.74 264.41,473.51 267.11,482.28 269.8,491.02 272.48,499.75 275.17,508.46 277.84,517.16 280.51,525.83 283.18,534.5 285.84,543.14 288.49,551.77 291.14,560.38 293.78,568.98" stroke-width="1"/>
<polyline points="165.32,37.61 168.25,47.11 171.17,56.6 174.09,66.06 177,75.51 179.91,84.93 182.81,94.34 185.7,103.73 188.59,113.1 191.47,122.45 194.35,131.79 197.22,141.1 200.09,150.4 202.95,159.68 205.8,168.94 208.65,178.18 211.49,187.41 214.32,196.62 217.16,205.8 219.98,214.97 222.8,224.13 225.61,233.26 228.42,242.38 231.22,251.48 234.02,260.56 236.81,269.62 239.59,278.67 242.37,287.7 245.15,296.71 247.91,305.7 250.68,314.68 253.43,323.64 256.19,332.58 258.93,341.51 261.67,350.41 264.41,359.31 267.14,368.18 269.86,377.03 272.58,385.87 275.29,394.7 278,403.5 280.7,412.29 283.4,421.06 286.09,429.82 288.78,438.56 291.46,447.28 294.13,455.98 296.8,464.67 299.47,473.34 302.13,482 304.78,490.64 307.43,499.26 310.08,507.87 312.72,516.46 315.35,525.03 317.98,533.59 320.6,542.13 323.22,550.66 325.83,559.17 328.44,567.66" stroke-width="1"/>
<polyline points="199.4,33.53 202.29,42.93 205.18,52.3 208.06,61.66 210.93,71 213.8,80.32 216.66,89.63 219.52,98.91 222.37,108.18 225.22,117.43 228.06,126.66 230.9,135.88 233.73,145.07 236.55,154.25 239.37,163.41 242.18,172.55 244.99,181.68 247.79,190.78 250.58,199.87 253.37,208.94 256.16,218 258.93,227.03 261.71,236.05 264.47,245.06 267.24,254.04 269.99,263.01 272.74,271.96 275.49,280.89 278.23,289.81 280.96,298.71 283.69,307.59 286.42,316.45 289.13,325.3 291.85,334.13 294.56,342.95 297.26,351.74 299.95,360.52 302.65,369.29 305.33,378.04 308.01,386.77 310.69,395.48 313.36,404.18 316.02,412.86 318.68,421.53 321.34,430.18 323.99,438.81 326.63,447.42 329.27,456.02 331.9,464.61 334.53,473.18 337.16,481.73 339.77,490.26 342.39,498.78 344.99,507.29 347.6,515.77 350.2,524.25 352.79,532.7 355.38,541.14 357.96,549.57 360.54,557.98 363.11,566.37 365.68,574.75" stroke-width="1"/>
<polyline points="236.36,38.83 239.21,48.11 242.06,57.36 244.9,66.6 247.73,75.82 250.56,85.02 253.38,94.21 256.2,103.37 259.01,112.52 261.81,121.65 264.61,130.77 267.41,139.86 270.19,148.94 272.98,158 275.76,167.05 278.53,176.07 281.29,185.08 284.06,194.07 286.81,203.05 289.56,212.01 292.31,220.95 295.04,229.87 297.78,238.78 300.51,247.67 303.23,256.54 305.95,265.4 308.66,274.24 311.37,283.06 314.07,291.86 316.76,300.65 319.46,309.43 322.14,318.18 324.82,326.92 327.5,335.64 330.17,344.35 332.83,353.04 335.49,361.72 338.15,370.37 340.79,379.01 343.44,387.64 346.08,396.25 348.71,404.84 351.34,413.42 353.96,421.98 356.58,430.53 359.19,439.05 361.8,447.57 364.4,456.07 367,464.55 369.6,473.01 372.18,481.46 374.77,489.9 377.34,498.32 379.92,506.72 382.48,515.11 385.05,523.48 387.6,531.84 390.16,540.18 392.71,548.51 395.25,556.82 397.79,565.11 400.32,573.39" stroke-width="1"/>
<polyline points="270.47,34.84 273.28,44.01 276.09,53.16 278.9,62.3 281.69,71.42 284.49,80.52 287.27,89.61 290.06,98.67 292.83,107.72 295.6,116.76 298.37,125.77 301.13,134.77 303.88,143.75 306.63,152.72 309.38,161.66 312.11,170.6 314.85,179.51 317.57,188.41 320.3,197.29 323.01,206.15 325.72,215 328.43,223.83 331.13,232.64 333.83,241.44 336.52,250.22 339.2,258.98 341.88,267.73 344.56,276.46 347.23,285.17 349.89,293.87 352.55,302.55 355.2,311.22 357.85,319.87 360.5,328.5 363.13,337.12 365.77,345.72 368.4,354.31 371.02,362.88 373.64,371.43 376.25,379.97 378.86,388.49 381.46,397 384.06,405.49 386.65,413.96 389.24,422.42 391.82,430.87 394.4,439.3 396.97,447.71 399.54,456.11 402.1,464.49 404.66,472.85 407.21,481.2 409.76,489.54 412.3,497.86 414.84,506.17 417.38,514.46 419.91,522.73 422.43,530.99 424.95,539.24 427.46,547.47 429.97,555.68 432.48,563.88 434.98,572.07" stroke-width="1"/>
<polyline points="307.38,40 310.16,49.06 312.93,58.09 315.69,67.12 318.45,76.12 321.2,85.11 323.95,94.08 326.69,103.03 329.43,111.97 332.16,120.89 334.89,129.79 337.61,138.68 340.33,147.55 343.04,156.4 345.74,165.24 348.44,174.06 351.14,182.86 353.83,191.65 356.51,200.42 359.19,209.18 361.86,217.91 364.53,226.64 367.2,235.34 369.85,244.03 372.51,252.7 375.16,261.36 377.8,270 380.44,278.63 383.07,287.24 385.7,295.83 388.32,304.41 390.94,312.97 393.55,321.52 396.16,330.05 398.76,338.56 401.36,347.06 403.95,355.54 406.54,364.01 409.12,372.46 411.7,380.9 414.27,389.32 416.84,397.73 419.4,406.12 421.96,414.5 424.51,422.86 427.06,431.2 429.6,439.53 432.14,447.84 434.67,456.14 437.2,464.43 439.73,472.7 442.25,480.95 444.76,489.19 447.27,497.42 449.77,505.63 452.27,513.82 454.77,522 457.26,530.17 459.75,538.32 462.23,546.45 464.7,554.58 467.17,562.68 469.64,570.78" stroke-width="1"/>
<polyline points="341.52,36.08 344.26,45.04 346.99,53.98 349.72,62.91 352.45,71.82 355.17,80.71 357.88,89.59 360.59,98.44 363.3,107.29 366,116.11 368.69,124.92 371.38,133.72 374.06,142.49 376.74,151.26 379.41,160 382.08,168.73 384.74,177.44 387.4,186.14 390.05,194.82 392.7,203.48 395.34,212.13 397.98,220.76 400.61,229.38 403.24,237.98 405.86,246.56 408.48,255.13 411.09,263.69 413.69,272.23 416.3,280.75 418.89,289.25 421.49,297.75 424.07,306.22 426.66,314.68 429.23,323.13 431.8,331.56 434.37,339.97 436.93,348.37 439.49,356.75 442.04,365.12 444.59,373.47 447.14,381.81 449.67,390.14 452.21,398.44 454.74,406.74 457.26,415.01 459.78,423.28 462.29,431.53 464.8,439.76 467.31,447.98 469.81,456.18 472.3,464.37 474.79,472.55 477.28,480.71 479.76,488.85 482.24,496.98 484.71,505.1 487.18,513.2 489.64,521.29 492.1,529.36 494.55,537.42 497,545.46 499.44,553.49 501.88,561.51 504.32,569.51" stroke-width="1"/>
<polyline points="378.39,41.11 381.09,49.96 383.79,58.79 386.48,67.61 389.17,76.41 391.85,85.19 394.53,93.96 397.2,102.71 399.86,111.44 402.53,120.16 405.18,128.86 407.83,137.55 410.48,146.22 413.12,154.87 415.76,163.51 418.39,172.14 421.01,180.74 423.64,189.34 426.25,197.91 428.86,206.47 431.47,215.02 434.07,223.55 436.67,232.06 439.26,240.56 441.84,249.04 444.43,257.51 447,265.96 449.57,274.4 452.14,282.82 454.7,291.22 457.26,299.62 459.81,307.99 462.36,316.35 464.9,324.7 467.44,333.03 469.97,341.35 472.5,349.65 475.03,357.93 477.54,366.2 480.06,374.46 482.57,382.7 485.07,390.93 487.57,399.14 490.07,407.34 492.56,415.52 495.04,423.69 497.53,431.84 500,439.98 502.47,448.11 504.94,456.22 507.4,464.32 509.86,472.4 512.32,480.47 514.76,488.52 517.21,496.56 519.65,504.58 522.08,512.59 524.52,520.59 526.94,528.57 529.36,536.54 531.78,544.5 534.19,552.44 536.6,560.36 539.01,568.28" stroke-width="1"/>
<polyline points="412.55,37.27 415.22,46.03 417.88,54.77 420.54,63.49 423.2,72.2 425.85,80.89 428.49,89.57 431.13,98.23 433.77,106.87 436.4,115.5 439.02,124.11 441.64,132.71 444.26,141.29 446.87,149.86 449.47,158.41 452.07,166.95 454.67,175.47 457.26,183.97 459.85,192.46 462.43,200.93 465,209.39 467.57,217.84 470.14,226.26 472.7,234.68 475.26,243.07 477.81,251.46 480.36,259.83 482.9,268.18 485.44,276.52 487.97,284.84 490.5,293.15 493.02,301.44 495.54,309.72 498.05,317.99 500.56,326.23 503.06,334.47 505.56,342.69 508.06,350.89 510.55,359.09 513.04,367.26 515.52,375.42 517.99,383.57 520.46,391.7 522.93,399.82 525.39,407.93 527.85,416.02 530.31,424.09 532.76,432.16 535.2,440.2 537.64,448.24 540.07,456.26 542.51,464.26 544.93,472.25 547.35,480.23 549.77,488.19 552.18,496.14 554.59,504.08 557,512 559.4,519.91 561.79,527.8 564.18,535.68 566.57,543.55 568.95,551.4 571.33,559.24 573.7,567.07 576.07,574.88" stroke-width="1"/>
<polyline points="446.73,33.51 449.37,42.18 452.01,50.83 454.64,59.46 457.26,68.08 459.88,76.68 462.49,85.27 465.1,93.84 467.71,102.4 470.31,110.94 472.9,119.46 475.49,127.97 478.07,136.47 480.65,144.95 483.23,153.41 485.8,161.86 488.36,170.3 490.92,178.72 493.48,187.12 496.03,195.51 498.58,203.89 501.12,212.25 503.66,220.59 506.19,228.92 508.71,237.24 511.24,245.54 513.75,253.82 516.27,262.09 518.78,270.35 521.28,278.59 523.78,286.82 526.27,295.03 528.76,303.23 531.25,311.41 533.73,319.58 536.21,327.74 538.68,335.88 541.14,344 543.61,352.12 546.06,360.21 548.52,368.3 550.97,376.37 553.41,384.42 555.85,392.46 558.29,400.49 560.72,408.5 563.14,416.5 565.57,424.49 567.98,432.46 570.4,440.42 572.8,448.36 575.21,456.29 577.61,464.21 580,472.11 582.39,480 584.78,487.87 587.16,495.74 589.54,503.58 591.91,511.42 594.28,519.24 596.65,527.05 599.01,534.84 601.36,542.62 603.72,550.39 606.06,558.14 608.41,565.89 610.75,573.61" stroke-width="1"/>
<polyline points="483.56,38.41 486.16,46.97 488.76,55.51 491.35,64.05 493.94,72.56 496.52,81.06 499.1,89.55 501.68,98.02 504.25,106.47 506.81,114.91 509.37,123.34 511.92,131.75 514.47,140.14 517.02,148.52 519.56,156.89 522.1,165.24 524.63,173.58 527.15,181.9 529.68,190.2 532.19,198.49 534.7,206.77 537.21,215.03 539.72,223.28 542.21,231.52 544.71,239.74 547.2,247.94 549.68,256.13 552.16,264.31 554.64,272.47 557.11,280.62 559.58,288.75 562.04,296.87 564.49,304.97 566.95,313.06 569.4,321.14 571.84,329.2 574.28,337.25 576.71,345.29 579.15,353.31 581.57,361.32 583.99,369.31 586.41,377.29 588.82,385.25 591.23,393.2 593.64,401.14 596.03,409.07 598.43,416.98 600.82,424.87 603.21,432.76 605.59,440.63 607.97,448.48 610.34,456.33 612.71,464.16 615.07,471.97 617.44,479.77 619.79,487.56 622.14,495.34 624.49,503.1 626.84,510.85 629.17,518.59 631.51,526.31 633.84,534.02 636.17,541.72 638.49,549.4 640.81,557.07 643.12,564.73 645.43,572.37" stroke-width="1"/>
<polyline points="517.77,34.72 520.34,43.19 522.91,51.65 525.47,60.1 528.03,68.53 530.59,76.94 533.14,85.34 535.68,93.73 538.22,102.1 540.75,110.46 543.28,118.8 545.81,127.12 548.33,135.44 550.85,143.73 553.36,152.02 555.86,160.28 558.37,168.54 560.86,176.78 563.36,185 565.85,193.21 568.33,201.41 570.81,209.59 573.28,217.76 575.76,225.92 578.22,234.06 580.68,242.18 583.14,250.29 585.59,258.39 588.04,266.47 590.48,274.54 592.92,282.6 595.36,290.64 597.79,298.67 600.21,306.68 602.63,314.68 605.05,322.67 607.46,330.64 609.87,338.6 612.27,346.54 614.67,354.48 617.07,362.39 619.46,370.3 621.85,378.19 624.23,386.07 626.61,393.93 628.98,401.78 631.35,409.62 633.71,417.44 636.07,425.25 638.43,433.05 640.78,440.83 643.13,448.6 645.47,456.36 647.81,464.1 650.15,471.84 652.48,479.55 654.81,487.26 657.13,494.95 659.45,502.63 661.76,510.3 664.07,517.95 666.38,525.59 668.68,533.22 670.98,540.83 673.27,548.43 675.56,556.02 677.84,563.6 680.13,571.16" stroke-width="1"/>
<polyline points="554.55,39.49 557.09,47.87 559.63,56.23 562.15,64.58 564.68,72.91 567.2,81.23 569.71,89.53 572.22,97.82 574.73,106.09 577.23,114.35 579.73,122.59 582.22,130.83 584.71,139.04 587.19,147.24 589.67,155.43 592.14,163.61 594.61,171.77 597.08,179.91 599.54,188.04 601.99,196.16 604.45,204.26 606.89,212.35 609.34,220.43 611.77,228.49 614.21,236.54 616.64,244.57 619.06,252.59 621.48,260.6 623.9,268.59 626.31,276.57 628.72,284.54 631.12,292.49 633.52,300.43 635.92,308.35 638.31,316.26 640.69,324.16 643.07,332.04 645.45,339.92 647.83,347.77 650.19,355.62 652.56,363.45 654.92,371.27 657.28,379.07 659.63,386.86 661.97,394.64 664.32,402.4 666.66,410.16 668.99,417.9 671.32,425.62 673.65,433.33 675.97,441.03 678.29,448.72 680.61,456.39 682.92,464.05 685.22,471.7 687.52,479.34 689.82,486.96 692.12,494.57 694.41,502.17 696.69,509.75 698.97,517.32 701.25,524.88 703.52,532.43 705.79,539.96 708.06,547.49 710.32,554.99 712.58,562.49 714.83,569.98" stroke-width="1"/>
<polyline points="588.79,35.87 591.3,44.16 593.8,52.44 596.3,60.71 598.8,68.96 601.29,77.19 603.78,85.41 606.26,93.62 608.74,101.81 611.21,109.99 613.68,118.16 616.14,126.31 618.6,134.45 621.06,142.57 623.51,150.68 625.95,158.77 628.4,166.85 630.83,174.92 633.27,182.98 635.7,191.02 638.12,199.04 640.54,207.05 642.96,215.05 645.37,223.04 647.77,231.01 650.18,238.97 652.58,246.91 654.97,254.84 657.36,262.76 659.74,270.66 662.13,278.56 664.5,286.43 666.88,294.3 669.24,302.15 671.61,309.99 673.97,317.81 676.32,325.62 678.68,333.42 681.02,341.2 683.37,348.98 685.71,356.73 688.04,364.48 690.37,372.21 692.7,379.93 695.02,387.64 697.34,395.33 699.65,403.02 701.96,410.68 704.27,418.34 706.57,425.98 708.87,433.61 711.16,441.23 713.45,448.83 715.74,456.43 718.02,464.01 720.3,471.57 722.57,479.13 724.84,486.67 727.11,494.2 729.37,501.72 731.62,509.22 733.88,516.71 736.13,524.19 738.37,531.66 740.62,539.12 742.85,546.56 745.09,553.99 747.32,561.41 749.54,568.81" stroke-width="1"/>
<polyline points="625.53,40.53 628.01,48.73 630.48,56.92 632.95,65.09 635.41,73.24 637.87,81.38 640.32,89.51 642.77,97.62 645.22,105.73 647.66,113.81 650.1,121.88 652.53,129.94 654.96,137.99 657.38,146.02 659.8,154.04 662.21,162.04 664.62,170.03 667.03,178.01 669.43,185.97 671.83,193.92 674.22,201.86 676.61,209.78 679,217.69 681.38,225.59 683.76,233.47 686.13,241.34 688.5,249.2 690.86,257.04 693.22,264.87 695.57,272.69 697.93,280.5 700.27,288.29 702.61,296.07 704.95,303.83 707.29,311.58 709.62,319.32 711.94,327.05 714.27,334.76 716.58,342.46 718.9,350.15 721.21,357.83 723.51,365.49 725.82,373.14 728.11,380.78 730.41,388.4 732.7,396.01 734.98,403.61 737.26,411.2 739.54,418.77 741.82,426.34 744.08,433.89 746.35,441.42 748.61,448.95 750.87,456.46 753.12,463.96 755.37,471.45 757.62,478.92 759.86,486.38 762.1,493.83 764.33,501.27 766.56,508.7 768.79,516.11 771.01,523.52 773.23,530.91 775.44,538.28 777.65,545.65 779.86,553 782.06,560.35 784.26,567.68 786.46,574.99" stroke-width="1"/>
<polyline points="659.79,36.98 662.24,45.1 664.68,53.2 667.12,61.29 669.56,69.37 671.99,77.43 674.42,85.48 676.84,93.52 679.26,101.54 681.67,109.55 684.08,117.55 686.49,125.53 688.89,133.5 691.28,141.45 693.68,149.4 696.07,157.32 698.45,165.24 700.83,173.14 703.21,181.03 705.58,188.91 707.94,196.77 710.31,204.62 712.67,212.45 715.02,220.28 717.37,228.09 719.72,235.88 722.06,243.67 724.4,251.44 726.73,259.2 729.06,266.94 731.39,274.68 733.71,282.4 736.03,290.1 738.34,297.8 740.65,305.48 742.96,313.15 745.26,320.81 747.55,328.45 749.85,336.08 752.14,343.7 754.42,351.3 756.7,358.9 758.98,366.48 761.25,374.05 763.52,381.6 765.79,389.15 768.05,396.68 770.31,404.2 772.56,411.71 774.81,419.2 777.06,426.68 779.3,434.15 781.54,441.61 783.77,449.06 786,456.49 788.23,463.91 790.45,471.32 792.67,478.72 794.88,486.1 797.09,493.48 799.3,500.84 801.5,508.19 803.7,515.53 805.9,522.85" stroke-width="1"/>
<polyline points="694.07,33.49 696.5,41.53 698.91,49.56 701.33,57.57 703.73,65.57 706.14,73.56 708.54,81.53 710.93,89.49 713.33,97.44 715.71,105.37 718.1,113.29 720.48,121.2 722.85,129.1 725.22,136.98 727.59,144.84 729.95,152.7 732.31,160.54 734.66,168.37 737.01,176.18 739.36,183.99 741.7,191.78 744.04,199.55 746.37,207.32 748.7,215.07 751.02,222.81 753.35,230.53 755.66,238.25 757.98,245.95 760.28,253.63 762.59,261.31 764.89,268.97 767.19,276.62 769.48,284.26 771.77,291.88 774.05,299.49 776.34,307.09 778.61,314.68 780.89,322.26 783.15,329.82 785.42,337.37 787.68,344.91 789.94,352.43 792.19,359.95 794.44,367.45 796.69,374.94 798.93,382.41 801.17,389.88 803.4,397.33 805.63,404.77 807.86,412.2 810.08,419.62" stroke-width="1"/>
<polyline points="730.78,38.04 733.17,45.99 735.55,53.93 737.94,61.85 740.31,69.76 742.69,77.66 745.06,85.55 747.42,93.42 749.78,101.28 752.14,109.13 754.49,116.96 756.84,124.78 759.19,132.59 761.53,140.38 763.87,148.16 766.2,155.93 768.53,163.69 770.85,171.43 773.17,179.16 775.49,186.88 777.8,194.59 780.11,202.28 782.41,209.96 784.71,217.63 787.01,225.28 789.3,232.93 791.59,240.56 793.87,248.17 796.15,255.78 798.43,263.37 800.7,270.95 802.97,278.52 805.24,286.08 807.5,293.62 809.76,301.15 812.01,308.67 814.26,316.18" stroke-width="1"/>
<polyline points="57.61,518.24 62.82,521.1 68.03,523.95 73.24,526.8 78.44,529.65 83.64,532.5 88.84,535.35 94.03,538.19 99.22,541.03 104.4,543.87 109.59,546.71 114.67,549.55 119.74,552.38 124.82,555.22 129.89,558.05 134.95,560.88" stroke-width="1"/>
<polyline points="67.66,515.89 72.88,518.74 78.08,521.6 83.29,524.45 88.49,527.3 93.69,530.15 98.88,533 104.07,535.84 109.26,538.69 114.35,541.53 119.43,544.37 124.51,547.21 129.58,550.04 134.65,552.88 139.72,555.71 144.79,558.54 149.85,561.37" stroke-width="1"/>
<polyline points="77.72,513.33 82.93,516.19 88.14,519.05 93.34,521.9 98.54,524.75 103.74,527.6 108.93,530.45 114.02,533.3 119.11,536.14 124.19,538.99 129.27,541.83 134.34,544.67 139.42,547.51 144.49,550.34 149.55,553.18 154.62,556.01 159.68,558.84 164.73,561.67" stroke-width="1"/>
<polyline points="87.77,510.56 92.98,513.42 98.19,516.28 103.39,519.14 108.59,521.99 113.68,524.84 118.77,527.69 123.86,530.54 128.95,533.39 134.03,536.23 139.11,539.08 144.18,541.92 149.25,544.76 154.32,547.6 159.38,550.43 164.45,553.27 169.5,556.1 174.56,558.93 179.61,561.76" stroke-width="1"/>
<polyline points="97.82,507.56 103.03,510.43 108.23,513.28 113.33,516.14 118.43,519 123.52,521.85 128.61,524.71 133.7,527.56 138.78,530.4 143.86,533.25 148.94,536.1 154.01,538.94 159.08,541.78 164.15,544.62 169.21,547.46 174.27,550.3 179.33,553.13 184.38,555.96 189.43,558.79 194.48,561.62" stroke-width="1"/>
<polyline points="107.87,504.32 112.98,507.18 118.08,510.04 123.18,512.9 128.27,515.76 133.36,518.62 138.45,521.47 143.54,524.32 148.62,527.17 153.7,530.02 158.77,532.87 163.85,535.72 168.91,538.56 173.98,541.4 179.04,544.24 184.1,547.08 189.16,549.92 194.21,552.75 199.26,555.58 204.3,558.42 209.34,561.24" stroke-width="1"/>
<polyline points="117.71,500.8 122.82,503.67 127.92,506.53 133.02,509.4 138.11,512.26 143.2,515.11 148.29,517.97 153.37,520.83 158.46,523.68 163.53,526.53 168.61,529.38 173.68,532.23 178.74,535.07 183.81,537.92 188.87,540.76 193.93,543.6 198.98,546.44 204.03,549.28 209.08,552.11 214.12,554.94 219.16,557.78 224.2,560.61" stroke-width="1"/>
<polyline points="127.56,497.01 132.66,499.87 137.76,502.74 142.86,505.61 147.95,508.47 153.04,511.33 158.13,514.19 163.21,517.04 168.29,519.9 173.36,522.75 178.44,525.61 183.51,528.46 188.57,531.3 193.64,534.15 198.7,536.99 203.75,539.84 208.81,542.68 213.86,545.52 218.9,548.36 223.94,551.19 228.98,554.03 234.02,556.86 239.05,559.69" stroke-width="1"/>
<polyline points="137.39,492.9 142.5,495.77 147.6,498.64 152.69,501.51 157.78,504.37 162.87,507.24 167.96,510.1 173.04,512.96 178.12,515.82 183.2,518.67 188.27,521.53 193.34,524.38 198.4,527.23 203.46,530.08 208.52,532.93 213.58,535.77 218.63,538.62 223.68,541.46 228.73,544.3 233.77,547.14 238.81,549.97 243.84,552.81 248.87,555.64 253.9,558.47 258.93,561.3" stroke-width="1"/>
<polyline points="147.23,488.47 152.33,491.34 157.43,494.21 162.53,497.08 167.62,499.95 172.71,502.82 177.79,505.68 182.87,508.54 187.95,511.4 193.03,514.26 198.1,517.12 203.17,519.98 208.23,522.83 213.29,525.68 218.35,528.53 223.41,531.38 228.46,534.23 233.51,537.07 238.55,539.91 243.59,542.75 248.63,545.59 253.66,548.43 258.7,551.27 263.72,554.1 268.75,556.93 273.77,559.76" stroke-width="1"/>
<polyline points="157.07,483.68 162.18,486.9 167.29,490.13 172.39,493.35 177.5,496.57 182.59,499.79 187.69,503 192.78,506.21 197.87,509.42 202.95,512.63 208.03,515.84 213.1,519.04 218.18,522.24 223.24,525.44 228.31,528.64 233.37,531.83 238.43,535.03 243.48,538.22 248.53,541.41 253.57,544.59 258.61,547.77 263.65,550.96 268.69,554.13 273.72,557.31 278.74,560.49" stroke-width="1"/>
<polyline points="166.92,479.14 172.03,482.37 177.14,485.6 182.25,488.83 187.35,492.05 192.44,495.27 197.54,498.49 202.63,501.7 207.71,504.92 212.8,508.13 217.87,511.34 222.95,514.55 228.02,517.75 233.09,520.95 238.15,524.15 243.21,527.35 248.26,530.55 253.32,533.74 258.36,536.93 263.41,540.12 268.45,543.31 273.49,546.49 278.52,549.67 283.55,552.85 288.57,556.03 293.6,559.21 298.61,562.38" stroke-width="1"/>
<polyline points="176.78,474.31 181.89,477.54 186.99,480.77 192.1,484 197.2,487.23 202.3,490.45 207.39,493.67 212.48,496.89 217.56,500.11 222.64,503.32 227.72,506.54 232.79,509.75 237.86,512.96 242.93,516.16 247.99,519.36 253.05,522.57 258.11,525.77 263.16,528.96 268.2,532.16 273.25,535.35 278.29,538.54 283.32,541.73 288.36,544.91 293.38,548.1 298.41,551.28 303.43,554.45 308.45,557.63 313.46,560.81" stroke-width="1"/>
<polyline points="186.63,469.15 191.74,472.39 196.85,475.62 201.95,478.85 207.05,482.08 212.15,485.31 217.24,488.54 222.33,491.76 227.41,494.98 232.49,498.2 237.57,501.42 242.64,504.63 247.71,507.84 252.78,511.05 257.84,514.26 262.9,517.46 267.95,520.67 273,523.87 278.05,527.06 283.09,530.26 288.13,533.45 293.17,536.65 298.2,539.83 303.22,543.02 308.25,546.21 313.27,549.39 318.29,552.57 323.3,555.75 328.31,558.92 333.31,562.09" stroke-width="1"/>
<polyline points="196.49,463.65 201.6,466.89 206.71,470.13 211.81,473.37 216.91,476.6 222,479.83 227.1,483.06 232.18,486.29 237.27,489.51 242.35,492.74 247.42,495.96 252.5,499.18 257.56,502.39 262.63,505.6 267.69,508.82 272.75,512.02 277.8,515.23 282.85,518.43 287.9,521.64 292.94,524.84 297.98,528.03 303.01,531.23 308.04,534.42 313.07,537.61 318.1,540.8 323.12,543.99 328.13,547.17 333.14,550.35 338.15,553.53 343.16,556.71 348.16,559.88" stroke-width="1"/>
<polyline points="206.35,457.8 211.46,461.04 216.57,464.28 221.67,467.52 226.77,470.76 231.86,474 236.95,477.23 242.04,480.46 247.12,483.69 252.2,486.92 257.28,490.14 262.35,493.36 267.42,496.58 272.49,499.8 277.55,503.02 282.6,506.23 287.66,509.44 292.71,512.65 297.75,515.85 302.79,519.06 307.83,522.26 312.87,525.46 317.9,528.65 322.93,531.85 327.95,535.04 332.97,538.23 337.98,541.42 343,544.61 348.01,547.79 353.01,550.97 358.01,554.15 363.01,557.33 368,560.5" stroke-width="1"/>
<polyline points="216.21,451.56 221.32,454.81 226.43,458.05 231.53,461.3 236.63,464.54 241.73,467.78 246.82,471.02 251.9,474.25 256.99,477.49 262.07,480.72 267.14,483.95 272.22,487.17 277.28,490.4 282.35,493.62 287.41,496.84 292.47,500.06 297.52,503.27 302.57,506.48 307.61,509.69 312.66,512.9 317.7,516.11 322.73,519.31 327.76,522.51 332.79,525.71 337.81,528.91 342.83,532.1 347.85,535.29 352.86,538.48 357.87,541.67 362.87,544.86 367.87,548.04 372.87,551.22 377.86,554.4 382.85,557.58 387.84,560.75" stroke-width="1"/>
<polyline points="226.08,444.92 231.19,448.17 236.3,451.42 241.4,454.67 246.5,457.92 251.59,461.16 256.69,464.41 261.77,467.65 266.86,470.88 271.94,474.12 277.01,477.35 282.08,480.58 287.15,483.81 292.22,487.04 297.28,490.26 302.34,493.48 307.39,496.7 312.44,499.92 317.48,503.14 322.53,506.35 327.57,509.56 332.6,512.77 337.63,515.97 342.66,519.18 347.68,522.38 352.7,525.58 357.72,528.78 362.73,531.97 367.74,535.16 372.74,538.35 377.74,541.54 382.74,544.73 387.74,547.91 392.73,551.09 397.71,554.27 402.69,557.45 407.67,560.62" stroke-width="1"/>
<polyline points="235.95,437.85 241.06,441.11 246.17,444.37 251.27,447.62 256.37,450.87 261.47,454.12 266.56,457.37 271.65,460.61 276.73,463.86 281.81,467.1 286.89,470.34 291.96,473.57 297.03,476.81 302.09,480.04 307.16,483.27 312.21,486.49 317.27,489.72 322.32,492.94 327.36,496.16 332.41,499.38 337.45,502.59 342.48,505.81 347.51,509.02 352.54,512.23 357.56,515.43 362.58,518.64 367.6,521.84 372.61,525.04 377.62,528.23 382.63,531.43 387.63,534.62 392.63,537.81 397.62,541 402.61,544.19 407.6,547.37 412.58,550.55 417.56,553.73 422.53,556.91 427.51,560.08" stroke-width="1"/>
<polyline points="245.83,430.33 250.94,433.6 256.05,436.86 261.15,440.12 266.25,443.38 271.35,446.63 276.44,449.89 281.53,453.14 286.61,456.38 291.69,459.63 296.77,462.87 301.85,466.12 306.91,469.35 311.98,472.59 317.04,475.83 322.1,479.06 327.16,482.29 332.21,485.51 337.25,488.74 342.3,491.96 347.34,495.18 352.37,498.4 357.4,501.62 362.43,504.83 367.46,508.04 372.48,511.25 377.49,514.46 382.51,517.66 387.52,520.87 392.52,524.07 397.52,527.26 402.52,530.46 407.52,533.65 412.51,536.85 417.5,540.03 422.48,543.22 427.46,546.41 432.43,549.59 437.41,552.77 442.38,555.95 447.34,559.12 452.3,562.29" stroke-width="1"/>
<polyline points="255.71,422.34 260.82,425.61 265.93,428.88 271.04,432.15 276.14,435.41 281.24,438.67 286.33,441.93 291.42,445.19 296.5,448.44 301.59,451.69 306.66,454.94 311.74,458.19 316.81,461.43 321.88,464.67 326.94,467.91 332,471.15 337.05,474.39 342.11,477.62 347.15,480.85 352.2,484.08 357.24,487.31 362.27,490.53 367.31,493.75 372.34,496.97 377.36,500.19 382.38,503.4 387.4,506.62 392.41,509.83 397.43,513.03 402.43,516.24 407.43,519.44 412.43,522.64 417.43,525.84 422.42,529.04 427.41,532.23 432.39,535.43 437.37,538.62 442.35,541.8 447.32,544.99 452.29,548.17 457.26,551.35 462.22,554.53 467.18,557.71 472.14,560.88" stroke-width="1"/>
<polyline points="265.6,413.85 270.72,417.13 275.83,420.4 280.93,423.67 286.04,426.94 291.13,430.21 296.23,433.47 301.32,436.74 306.41,440 311.49,443.25 316.57,446.51 321.64,449.76 326.72,453.01 331.78,456.26 336.85,459.51 341.91,462.75 346.96,465.99 352.02,469.23 357.07,472.47 362.11,475.7 367.15,478.93 372.19,482.16 377.22,485.39 382.25,488.62 387.28,491.84 392.3,495.06 397.32,498.28 402.34,501.5 407.35,504.71 412.36,507.92 417.36,511.13 422.36,514.34 427.36,517.54 432.35,520.74 437.34,523.95 442.33,527.14 447.31,530.34 452.29,533.53 457.26,536.72 462.23,539.91 467.2,543.1 472.16,546.28 477.12,549.47 482.08,552.65 487.03,555.82 491.98,559 496.92,562.17" stroke-width="1"/>
<polyline points="275.5,404.83 280.62,408.12 285.73,411.4 290.84,414.67 295.94,417.95 301.04,421.22 306.14,424.49 311.23,427.76 316.32,431.03 321.4,434.29 326.48,437.55 331.56,440.81 336.63,444.07 341.7,447.32 346.77,450.58 351.83,453.83 356.89,457.07 361.94,460.32 366.99,463.56 372.04,466.8 377.08,470.04 382.12,473.28 387.16,476.51 392.19,479.74 397.22,482.97 402.24,486.2 407.26,489.42 412.28,492.65 417.29,495.87 422.3,499.08 427.31,502.3 432.31,505.51 437.31,508.72 442.3,511.93 447.29,515.14 452.28,518.34 457.26,521.55 462.24,524.75 467.22,527.94 472.19,531.14 477.16,534.33 482.12,537.52 487.08,540.71 492.04,543.9 496.99,547.08 501.94,550.26 506.89,553.44 511.83,556.62 516.77,559.79" stroke-width="1"/>
<polyline points="285.41,395.25 290.53,398.54 295.64,401.83 300.75,405.12 305.86,408.4 310.96,411.68 316.06,414.96 321.15,418.23 326.24,421.5 331.33,424.77 336.41,428.04 341.49,431.31 346.56,434.57 351.64,437.83 356.7,441.09 361.77,444.35 366.83,447.6 371.88,450.86 376.93,454.11 381.98,457.35 387.03,460.6 392.07,463.84 397.11,467.08 402.14,470.32 407.17,473.56 412.2,476.79 417.22,480.02 422.24,483.25 427.25,486.48 432.26,489.7 437.27,492.92 442.27,496.14 447.27,499.36 452.27,502.58 457.26,505.79 462.25,509 467.23,512.21 472.21,515.42 477.19,518.62 482.17,521.82 487.14,525.02 492.1,528.22 497.06,531.41 502.02,534.61 506.98,537.8 511.93,540.99 516.88,544.17 521.82,547.35 526.76,550.54 531.7,553.72 536.63,556.89 541.56,560.07" stroke-width="1"/>
<polyline points="295.33,385.09 300.45,388.38 305.57,391.68 310.68,394.97 315.79,398.26 320.89,401.55 325.99,404.83 331.09,408.11 336.18,411.39 341.27,414.67 346.35,417.95 351.43,421.22 356.51,424.49 361.58,427.76 366.65,431.03 371.72,434.29 376.78,437.55 381.84,440.81 386.89,444.07 391.94,447.32 396.99,450.57 402.03,453.82 407.07,457.07 412.11,460.32 417.14,463.56 422.17,466.8 427.19,470.04 432.21,473.28 437.23,476.51 442.24,479.74 447.25,482.97 452.26,486.2 457.26,489.42 462.26,492.65 467.25,495.87 472.24,499.08 477.23,502.3 482.21,505.51 487.19,508.72 492.17,511.93 497.14,515.14 502.11,518.34 507.07,521.54 512.03,524.74 516.99,527.94 521.94,531.14 526.89,534.33 531.84,537.52 536.78,540.71 541.72,543.9 546.66,547.08 551.59,550.26 556.52,553.44 561.44,556.62 566.36,559.79" stroke-width="1"/>
<polyline points="305.27,374.3 310.39,377.6 315.51,380.9 320.62,384.2 325.73,387.5 330.84,390.8 335.94,394.09 341.04,397.38 346.13,400.67 351.22,403.95 356.31,407.24 361.4,410.52 366.47,413.79 371.55,417.07 376.62,420.34 381.69,423.62 386.76,426.89 391.82,430.15 396.87,433.42 401.93,436.68 406.97,439.94 412.02,443.2 417.06,446.45 422.1,449.7 427.13,452.96 432.16,456.2 437.19,459.45 442.21,462.69 447.23,465.93 452.25,469.17 457.26,472.41 462.27,475.64 467.27,478.88 472.27,482.11 477.27,485.33 482.26,488.56 487.25,491.78 492.24,495 497.22,498.22 502.2,501.44 507.17,504.65 512.14,507.86 517.11,511.07 522.07,514.28 527.03,517.49 531.99,520.69 536.94,523.89 541.89,527.09 546.83,530.28 551.77,533.48 556.71,536.67 561.65,539.86 566.58,543.04 571.5,546.23 576.42,549.41 581.34,552.59 586.26,555.77 591.17,558.94 596.08,562.12" stroke-width="1"/>
<polyline points="315.21,362.85 320.34,366.17 325.46,369.48 330.58,372.78 335.69,376.09 340.8,379.39 345.91,382.69 351.01,385.99 356.1,389.29 361.2,392.58 366.29,395.87 371.37,399.16 376.46,402.45 381.54,405.73 386.61,409.01 391.68,412.29 396.75,415.57 401.81,418.85 406.87,422.12 411.93,425.39 416.98,428.66 422.03,431.92 427.07,435.19 432.11,438.45 437.15,441.71 442.18,444.96 447.21,448.22 452.24,451.47 457.26,454.72 462.28,457.96 467.29,461.21 472.3,464.45 477.31,467.69 482.31,470.93 487.31,474.16 492.31,477.4 497.3,480.63 502.29,483.86 507.27,487.08 512.25,490.31 517.23,493.53 522.2,496.75 527.17,499.97 532.14,503.18 537.1,506.39 542.06,509.6 547.01,512.81 551.97,516.02 556.91,519.22 561.86,522.42 566.8,525.62 571.73,528.82 576.67,532.01 581.6,535.21 586.52,538.4 591.44,541.58 596.36,544.77 601.27,547.95 606.19,551.13 611.09,554.31 616,557.49 620.9,560.66" stroke-width="1"/>
<polyline points="325.18,350.72 330.31,354.04 335.43,357.36 340.55,360.67 345.67,363.99 350.78,367.3 355.89,370.61 360.99,373.92 366.09,377.22 371.19,380.52 376.29,383.82 381.37,387.12 386.46,390.42 391.54,393.71 396.62,397 401.69,400.29 406.76,403.57 411.83,406.86 416.89,410.14 421.95,413.42 427.01,416.69 432.06,419.97 437.11,423.24 442.15,426.51 447.19,429.78 452.23,433.04 457.26,436.3 462.29,439.56 467.31,442.82 472.33,446.08 477.35,449.33 482.37,452.58 487.38,455.83 492.38,459.08 497.38,462.32 502.38,465.56 507.38,468.8 512.37,472.04 517.36,475.27 522.34,478.51 527.32,481.74 532.3,484.96 537.27,488.19 542.24,491.41 547.2,494.63 552.17,497.85 557.12,501.07 562.08,504.28 567.03,507.49 571.97,510.7 576.92,513.91 581.86,517.12 586.79,520.32 591.72,523.52 596.65,526.72 601.58,529.91 606.5,533.11 611.42,536.3 616.33,539.49 621.24,542.68 626.15,545.86 631.05,549.04 635.95,552.22 640.84,555.4 645.74,558.58 650.62,561.75" stroke-width="1"/>
<polyline points="335.16,337.85 340.29,341.18 345.42,344.51 350.54,347.84 355.66,351.16 360.78,354.48 365.89,357.8 371,361.12 376.11,364.43 381.21,367.74 386.3,371.05 391.4,374.36 396.49,377.66 401.57,380.96 406.65,384.26 411.73,387.56 416.81,390.86 421.88,394.15 426.94,397.44 432,400.73 437.06,404.01 442.12,407.3 447.17,410.58 452.22,413.86 457.26,417.13 462.3,420.41 467.34,423.68 472.37,426.95 477.4,430.21 482.42,433.48 487.44,436.74 492.46,440 497.47,443.26 502.48,446.51 507.49,449.76 512.49,453.02 517.49,456.26 522.48,459.51 527.47,462.75 532.46,465.99 537.45,469.23 542.43,472.47 547.4,475.7 552.37,478.94 557.34,482.17 562.31,485.39 567.27,488.62 572.23,491.84 577.18,495.06 582.13,498.28 587.08,501.5 592.02,504.71 596.96,507.92 601.89,511.13 606.82,514.34 611.75,517.54 616.68,520.75 621.6,523.95 626.51,527.15 631.43,530.34 636.34,533.53 641.24,536.73 646.15,539.92 651.04,543.1 655.94,546.29 660.83,549.47 665.72,552.65 670.6,555.83 675.48,559 680.36,562.18" stroke-width="1"/>
<polyline points="345.16,324.22 350.3,327.56 355.43,330.9 360.56,334.23 365.68,337.57 370.8,340.9 375.92,344.23 381.03,347.55 386.14,350.88 391.25,354.2 396.35,357.52 401.44,360.83 406.54,364.15 411.63,367.46 416.71,370.77 421.79,374.08 426.87,377.38 431.95,380.68 437.02,383.98 442.08,387.28 447.15,390.57 452.2,393.87 457.26,397.16 462.31,400.45 467.36,403.73 472.4,407.02 477.44,410.3 482.48,413.58 487.51,416.85 492.54,420.13 497.56,423.4 502.59,426.67 507.6,429.93 512.62,433.2 517.63,436.46 522.63,439.72 527.63,442.98 532.63,446.23 537.63,449.49 542.62,452.74 547.61,455.99 552.59,459.23 557.57,462.48 562.55,465.72 567.52,468.96 572.49,472.19 577.45,475.43 582.41,478.66 587.37,481.89 592.32,485.12 597.27,488.34 602.22,491.57 607.16,494.79 612.1,498.01 617.04,501.22 621.97,504.44 626.9,507.65 631.82,510.86 636.74,514.07 641.66,517.27 646.57,520.47 651.48,523.67 656.39,526.87 661.29,530.07 666.19,533.26 671.09,536.45 675.98,539.64 680.86,542.83 685.75,546.01 690.63,549.2 695.51,552.38 700.38,555.55 705.25,558.73 710.12,561.9" stroke-width="1"/>
<polyline points="355.19,309.78 360.33,313.13 365.46,316.48 370.6,319.82 375.73,323.17 380.85,326.51 385.97,329.85 391.09,333.18 396.2,336.52 401.31,339.85 406.42,343.18 411.52,346.51 416.62,349.83 421.71,353.15 426.8,356.47 431.89,359.79 436.97,363.1 442.05,366.42 447.12,369.73 452.19,373.03 457.26,376.34 462.32,379.64 467.38,382.94 472.44,386.24 477.49,389.54 482.54,392.83 487.58,396.12 492.62,399.41 497.66,402.7 502.69,405.98 507.72,409.26 512.75,412.54 517.77,415.82 522.79,419.09 527.8,422.37 532.81,425.64 537.82,428.9 542.82,432.17 547.82,435.43 552.82,438.69 557.81,441.95 562.79,445.21 567.78,448.46 572.76,451.71 577.74,454.96 582.71,458.21 587.68,461.45 592.64,464.7 597.61,467.94 602.56,471.17 607.52,474.41 612.47,477.64 617.42,480.87 622.36,484.1 627.3,487.33 632.23,490.55 637.17,493.77 642.09,496.99 647.02,500.21 651.94,503.42 656.86,506.64 661.77,509.85 666.68,513.06 671.59,516.26 676.49,519.46 681.39,522.67 686.29,525.86 691.18,529.06 696.07,532.26 700.95,535.45 705.83,538.64 710.71,541.83 715.58,545.01 720.45,548.19 725.32,551.37 730.18,554.55 735.04,557.73 739.9,560.9" stroke-width="1"/>
<polyline points="365.24,294.48 370.38,297.84 375.52,301.2 380.66,304.56 385.79,307.92 390.92,311.27 396.05,314.62 401.17,317.96 406.29,321.31 411.4,324.65 416.51,327.99 421.62,331.33 426.72,334.67 431.82,338 436.92,341.33 442.01,344.66 447.1,347.98 452.18,351.31 457.26,354.63 462.34,357.95 467.41,361.26 472.48,364.58 477.54,367.89 482.6,371.2 487.66,374.5 492.71,377.81 497.76,381.11 502.81,384.41 507.85,387.71 512.88,391 517.92,394.29 522.95,397.58 527.98,400.87 533,404.16 538.02,407.44 543.03,410.72 548.04,414 553.05,417.27 558.05,420.55 563.05,423.82 568.05,427.09 573.04,430.36 578.03,433.62 583.02,436.88 588,440.14 592.98,443.4 597.95,446.65 602.92,449.91 607.89,453.16 612.85,456.41 617.81,459.65 622.76,462.9 627.71,466.14 632.66,469.38 637.61,472.61 642.55,475.85 647.48,479.08 652.42,482.31 657.35,485.54 662.27,488.76 667.19,491.98 672.11,495.2 677.03,498.42 681.94,501.64 686.84,504.85 691.75,508.06 696.65,511.27 701.54,514.48 706.44,517.68 711.33,520.89 716.21,524.09 721.09,527.29 725.97,530.48 730.85,533.67 735.72,536.87 740.58,540.05 745.45,543.24 750.31,546.43 755.16,549.61 760.02,552.79 764.87,555.97" stroke-width="1"/>
<polyline points="375.31,278.29 380.46,281.66 385.61,285.03 390.75,288.4 395.89,291.77 401.03,295.13 406.16,298.49 411.29,301.85 416.41,305.21 421.53,308.56 426.65,311.91 431.76,315.26 436.87,318.61 441.97,321.95 447.07,325.3 452.17,328.64 457.26,331.97 462.35,335.31 467.43,338.64 472.52,341.97 477.59,345.3 482.67,348.62 487.74,351.95 492.8,355.27 497.86,358.59 502.92,361.9 507.98,365.21 513.03,368.53 518.07,371.83 523.12,375.14 528.16,378.44 533.19,381.75 538.22,385.04 543.25,388.34 548.28,391.64 553.3,394.93 558.31,398.22 563.33,401.5 568.33,404.79 573.34,408.07 578.34,411.35 583.34,414.63 588.33,417.91 593.32,421.18 598.31,424.45 603.29,427.72 608.27,430.99 613.25,434.25 618.22,437.51 623.19,440.77 628.15,444.03 633.11,447.28 638.07,450.53 643.02,453.78 647.97,457.03 652.91,460.28 657.86,463.52 662.79,466.76 667.73,470 672.66,473.24 677.59,476.47 682.51,479.7 687.43,482.93 692.34,486.16 697.26,489.38 702.17,492.6 707.07,495.83 711.97,499.04 716.87,502.26 721.76,505.47 726.65,508.68 731.54,511.89 736.42,515.1 741.3,518.3 746.18,521.5 751.05,524.7 755.92,527.9 760.78,531.1 765.64,534.29" stroke-width="1"/>
<polyline points="385.42,261.14 390.57,264.53 395.73,267.91 400.88,271.29 406.02,274.67 411.16,278.05 416.3,281.42 421.43,284.79 426.56,288.16 431.69,291.53 436.81,294.89 441.93,298.26 447.04,301.61 452.15,304.97 457.26,308.33 462.36,311.68 467.46,315.03 472.56,318.37 477.65,321.72 482.73,325.06 487.82,328.4 492.9,331.74 497.97,335.07 503.04,338.41 508.11,341.74 513.18,345.06 518.24,348.39 523.29,351.71 528.35,355.03 533.39,358.35 538.44,361.67 543.48,364.98 548.52,368.29 553.55,371.6 558.58,374.91 563.61,378.21 568.63,381.51 573.65,384.81 578.66,388.11 583.67,391.4 588.68,394.7 593.68,397.99 598.68,401.27 603.68,404.56 608.67,407.84 613.66,411.12 618.64,414.4 623.63,417.68 628.6,420.95 633.58,424.22 638.55,427.49 643.51,430.76 648.47,434.02 653.43,437.28 658.39,440.54 663.34,443.8 668.29,447.05 673.23,450.31 678.17,453.56 683.1,456.8 688.04,460.05 692.97,463.29 697.89,466.53 702.81,469.77 707.73,473.01 712.64,476.24 717.55,479.47 722.46,482.7 727.36,485.93 732.26,489.16 737.16,492.38 742.05,495.6 746.94,498.82 751.82,502.03 756.71,505.25 761.58,508.46 766.46,511.67" stroke-width="1"/>
<polyline points="395.55,243 400.72,246.4 405.88,249.8 411.03,253.19 416.19,256.58 421.33,259.97 426.48,263.36 431.62,266.74 436.75,270.13 441.89,273.51 447.01,276.88 452.14,280.26 457.26,283.63 462.38,287 467.49,290.37 472.6,293.73 477.7,297.09 482.81,300.45 487.9,303.81 493,307.17 498.09,310.52 503.17,313.87 508.25,317.22 513.33,320.56 518.41,323.91 523.48,327.25 528.54,330.58 533.61,333.92 538.66,337.25 543.72,340.59 548.77,343.91 553.82,347.24 558.86,350.56 563.9,353.89 568.94,357.2 573.97,360.52 579,363.84 584.02,367.15 589.04,370.46 594.06,373.76 599.08,377.07 604.08,380.37 609.09,383.67 614.09,386.97 619.09,390.26 624.09,393.56 629.08,396.85 634.06,400.14 639.05,403.42 644.03,406.71 649,409.99 653.97,413.27 658.94,416.54 663.91,419.82 668.87,423.09 673.82,426.36 678.78,429.63 683.73,432.89 688.67,436.15 693.61,439.41 698.55,442.67 703.49,445.93 708.42,449.18 713.35,452.43 718.27,455.68 723.19,458.93 728.11,462.17 733.02,465.41 737.93,468.65 742.83,471.89 747.73,475.12 752.63,478.36 757.53,481.59 762.42,484.81 767.3,488.04" stroke-width="1"/>
<polyline points="405.73,223.8 410.9,227.22 416.07,230.63 421.23,234.04 426.39,237.44 431.54,240.85 436.69,244.25 441.84,247.65 446.98,251.04 452.12,254.43 457.26,257.83 462.39,261.21 467.52,264.6 472.64,267.98 477.76,271.36 482.88,274.74 487.99,278.12 493.1,281.49 498.2,284.86 503.3,288.23 508.4,291.6 513.49,294.96 518.58,298.33 523.67,301.68 528.75,305.04 533.83,308.4 538.9,311.75 543.97,315.1 549.04,318.44 554.1,321.79 559.16,325.13 564.21,328.47 569.26,331.81 574.31,335.14 579.35,338.48 584.39,341.81 589.42,345.13 594.46,348.46 599.48,351.78 604.51,355.1 609.53,358.42 614.54,361.74 619.56,365.05 624.57,368.36 629.57,371.67 634.57,374.98 639.57,378.28 644.56,381.58 649.55,384.88 654.54,388.18 659.52,391.47 664.5,394.76 669.47,398.05 674.45,401.34 679.41,404.63 684.38,407.91 689.34,411.19 694.29,414.47 699.24,417.74 704.19,421.02 709.14,424.29 714.08,427.56 719.02,430.82 723.95,434.09 728.88,437.35 733.81,440.61 738.73,443.87 743.65,447.12 748.56,450.37 753.48,453.62 758.38,456.87 763.29,460.12 768.19,463.36" stroke-width="1"/>
<polyline points="415.94,203.5 421.12,206.93 426.29,210.35 431.47,213.78 436.63,217.2 441.79,220.61 446.95,224.03 452.11,227.44 457.26,230.85 462.41,234.26 467.55,237.67 472.69,241.07 477.83,244.47 482.96,247.87 488.08,251.26 493.21,254.66 498.33,258.05 503.44,261.44 508.56,264.82 513.66,268.21 518.77,271.59 523.87,274.97 528.96,278.34 534.06,281.71 539.15,285.09 544.23,288.45 549.31,291.82 554.39,295.18 559.46,298.55 564.53,301.9 569.6,305.26 574.66,308.62 579.72,311.97 584.77,315.32 589.82,318.66 594.87,322.01 599.91,325.35 604.95,328.69 609.98,332.03 615.02,335.36 620.04,338.69 625.07,342.02 630.09,345.35 635.1,348.68 640.11,352 645.12,355.32 650.13,358.64 655.13,361.95 660.13,365.27 665.12,368.58 670.11,371.89 675.09,375.19 680.08,378.5 685.05,381.8 690.03,385.1 695,388.39 699.97,391.69 704.93,394.98 709.89,398.27 714.85,401.56 719.8,404.84 724.75,408.12 729.69,411.41 734.63,414.68 739.57,417.96 744.5,421.23 749.43,424.5 754.36,427.77 759.28,431.04 764.2,434.3 769.11,437.56" stroke-width="1"/>
<polyline points="426.2,182.02 431.38,185.47 436.57,188.91 441.75,192.35 446.92,195.78 452.09,199.22 457.26,202.65 462.42,206.08 467.58,209.5 472.74,212.93 477.89,216.35 483.04,219.77 488.18,223.18 493.32,226.59 498.46,230.01 503.59,233.41 508.72,236.82 513.84,240.22 518.96,243.63 524.08,247.02 529.19,250.42 534.3,253.81 539.4,257.21 544.5,260.6 549.6,263.98 554.69,267.37 559.78,270.75 564.87,274.13 569.95,277.5 575.03,280.88 580.1,284.25 585.17,287.62 590.24,290.98 595.3,294.35 600.36,297.71 605.41,301.07 610.46,304.43 615.51,307.78 620.55,311.14 625.59,314.49 630.63,317.83 635.66,321.18 640.69,324.52 645.71,327.86 650.73,331.2 655.75,334.53 660.76,337.87 665.77,341.2 670.77,344.53 675.77,347.85 680.77,351.17 685.76,354.5 690.75,357.81 695.74,361.13 700.72,364.44 705.7,367.76 710.67,371.07 715.65,374.37 720.61,377.68 725.58,380.98 730.54,384.28 735.49,387.58 740.44,390.87 745.39,394.16 750.34,397.45 755.28,400.74 760.22,404.03 765.15,407.31 770.08,410.59" stroke-width="1"/>
<polyline points="436.5,159.31 441.7,162.77 446.89,166.23 452.08,169.69 457.26,173.14 462.44,176.59 467.62,180.04 472.79,183.48 477.96,186.92 483.12,190.36 488.28,193.8 493.44,197.24 498.59,200.67 503.74,204.1 508.89,207.53 514.03,210.95 519.16,214.38 524.3,217.8 529.43,221.21 534.55,224.63 539.67,228.04 544.79,231.45 549.9,234.86 555.01,238.26 560.12,241.67 565.22,245.07 570.32,248.46 575.41,251.86 580.5,255.25 585.59,258.64 590.67,262.03 595.75,265.42 600.82,268.8 605.89,272.18 610.96,275.56 616.02,278.93 621.08,282.31 626.14,285.68 631.19,289.05 636.24,292.41 641.28,295.77 646.32,299.14 651.36,302.49 656.39,305.85 661.42,309.2 666.44,312.55 671.47,315.9 676.48,319.25 681.5,322.59 686.51,325.94 691.51,329.28 696.51,332.61 701.51,335.95 706.51,339.28 711.5,342.61 716.48,345.94 721.47,349.26 726.45,352.58 731.42,355.9 736.39,359.22 741.36,362.54 746.32,365.85 751.29,369.16 756.24,372.47 761.19,375.77 766.14,379.08 771.09,382.38" stroke-width="1"/>
<polyline points="446.85,135.3 452.06,138.78 457.26,142.26 462.46,145.73 467.65,149.2 472.84,152.67 478.03,156.13 483.21,159.6 488.39,163.06 493.56,166.51 498.73,169.97 503.9,173.42 509.06,176.87 514.22,180.32 519.37,183.76 524.53,187.21 529.67,190.65 534.81,194.08 539.95,197.52 545.09,200.95 550.22,204.38 555.35,207.81 560.47,211.23 565.59,214.65 570.7,218.07 575.81,221.49 580.92,224.91 586.02,228.32 591.12,231.73 596.22,235.14 601.31,238.54 606.4,241.94 611.48,245.34 616.56,248.74 621.64,252.14 626.71,255.53 631.78,258.92 636.85,262.31 641.91,265.69 646.96,269.07 652.02,272.45 657.07,275.83 662.11,279.21 667.15,282.58 672.19,285.95 677.22,289.32 682.25,292.69 687.28,296.05 692.3,299.41 697.32,302.77 702.34,306.12 707.35,309.48 712.35,312.83 717.36,316.18 722.36,319.52 727.35,322.87 732.35,326.21 737.33,329.55 742.32,332.88 747.3,336.22 752.28,339.55 757.25,342.88 762.22,346.21 767.18,349.53 772.15,352.85" stroke-width="1"/>
<polyline points="457.26,109.92 462.48,113.42 467.69,116.91 472.9,120.4 478.1,123.89 483.3,127.38 488.5,130.86 493.69,134.34 498.88,137.82 504.07,141.3 509.25,144.77 514.42,148.24 519.6,151.71 524.76,155.18 529.93,158.64 535.09,162.1 540.25,165.56 545.4,169.02 550.55,172.47 555.69,175.92 560.84,179.37 565.97,182.81 571.11,186.26 576.23,189.7 581.36,193.14 586.48,196.57 591.6,200 596.71,203.43 601.82,206.86 606.93,210.29 612.03,213.71 617.13,217.13 622.22,220.55 627.31,223.97 632.4,227.38 637.48,230.79 642.56,234.2 647.63,237.6 652.7,241.01 657.77,244.41 662.83,247.8 667.89,251.2 672.95,254.59 678,257.98 683.05,261.37 688.09,264.76 693.13,268.14 698.17,271.52 703.2,274.9 708.23,278.28 713.25,281.65 718.27,285.02 723.29,288.39 728.3,291.76 733.31,295.12 738.32,298.48 743.32,301.84 748.32,305.2 753.31,308.55 758.3,311.9 763.29,315.25 768.27,318.6 773.25,321.95" stroke-width="1"/>
<polyline points="467.73,83.1 472.96,86.61 478.18,90.13 483.4,93.64 488.62,97.15 493.83,100.65 499.04,104.15 504.24,107.66 509.44,111.15 514.64,114.65 519.83,118.14 525.02,121.63 530.2,125.12 535.38,128.61 540.55,132.09 545.73,135.57 550.89,139.05 556.06,142.52 561.22,146 566.37,149.47 571.53,152.93 576.68,156.4 581.82,159.86 586.96,163.32 592.1,166.78 597.23,170.23 602.36,173.68 607.48,177.13 612.6,180.58 617.72,184.03 622.83,187.47 627.94,190.91 633.04,194.35 638.15,197.78 643.24,201.21 648.34,204.64 653.43,208.07 658.51,211.49 663.59,214.92 668.67,218.34 673.74,221.75 678.81,225.17 683.88,228.58 688.94,231.99 694,235.4 699.05,238.8 704.1,242.2 709.15,245.6 714.19,249 719.23,252.4 724.27,255.79 729.3,259.18 734.33,262.57 739.35,265.95 744.37,269.33 749.39,272.71 754.4,276.09 759.41,279.47 764.41,282.84 769.41,286.21 774.41,289.58" stroke-width="1"/>
<polyline points="478.26,54.74 483.5,58.28 488.74,61.81 493.97,65.35 499.2,68.88 504.42,72.4 509.64,75.93 514.86,79.45 520.07,82.97 525.28,86.49 530.48,90 535.68,93.51 540.88,97.02 546.07,100.53 551.26,104.03 556.44,107.53 561.62,111.03 566.8,114.52 571.97,118.02 577.14,121.51 582.3,125 587.46,128.48 592.62,131.96 597.77,135.44 602.92,138.92 608.06,142.4 613.2,145.87 618.34,149.34 623.47,152.81 628.6,156.27 633.72,159.74 638.84,163.2 643.96,166.65 649.07,170.11 654.18,173.56 659.28,177.01 664.39,180.46 669.48,183.9 674.57,187.35 679.66,190.78 684.75,194.22 689.83,197.66 694.91,201.09 699.98,204.52 705.05,207.95 710.12,211.37 715.18,214.79 720.24,218.21 725.29,221.63 730.34,225.05 735.39,228.46 740.43,231.87 745.47,235.27 750.5,238.68 755.53,242.08 760.56,245.48 765.58,248.88 770.6,252.27 775.62,255.67" stroke-width="1"/>
<polyline points="488.87,24.78 494.12,28.34 499.37,31.9 504.61,35.45 509.85,39 515.09,42.55 520.32,46.1 525.55,49.64 530.78,53.18 536,56.72 541.22,60.26 546.43,63.79 551.64,67.32 556.84,70.85 562.04,74.38 567.24,77.9 572.43,81.42 577.62,84.94 582.8,88.45 587.98,91.96 593.16,95.47 598.33,98.98 603.5,102.49 608.67,105.99 613.83,109.49 618.98,112.98 624.14,116.48 629.29,119.97 634.43,123.46 639.57,126.95 644.71,130.43 649.84,133.91 654.97,137.39 660.09,140.87 665.22,144.34 670.33,147.81 675.45,151.28 680.56,154.75 685.66,158.21 690.76,161.67 695.86,165.13 700.95,168.59 706.04,172.04 711.13,175.49 716.21,178.94 721.29,182.39 726.36,185.83 731.43,189.27 736.5,192.71 741.56,196.14 746.62,199.58 751.67,203.01 756.72,206.44 761.77,209.86 766.81,213.29 771.85,216.71 776.89,220.13" stroke-width="1"/>
<polyline points="499.55,-6.88 504.81,-3.3 510.08,0.28 515.33,3.86 520.59,7.44 525.84,11.01 531.09,14.58 536.33,18.15 541.57,21.71 546.8,25.27 552.03,28.83 557.26,32.39 562.48,35.94 567.7,39.5 572.92,43.04 578.13,46.59 583.33,50.13 588.53,53.67 593.73,57.21 598.93,60.75 604.12,64.28 609.3,67.81 614.48,71.34 619.66,74.86 624.84,78.39 630.01,81.91 635.17,85.42 640.34,88.94 645.49,92.45 650.65,95.96 655.8,99.47 660.94,102.97 666.09,106.47 671.22,109.97 676.36,113.47 681.49,116.96 686.62,120.45 691.74,123.94 696.86,127.43 701.97,130.91 707.08,134.39 712.19,137.87 717.29,141.35 722.39,144.82 727.48,148.29 732.58,151.76 737.66,155.23 742.75,158.69 747.82,162.15 752.9,165.61 757.97,169.07 763.04,172.52 768.1,175.97 773.16,179.42 778.22,182.86" stroke-width="1"/>
<polyline points="521.16,-75.68 526.46,-72.04 531.75,-68.41 537.04,-64.78 542.33,-61.16 547.61,-57.53 552.89,-53.91 558.16,-50.29 563.43,-46.68 568.7,-43.06 573.96,-39.45 579.21,-35.85 584.47,-32.24 589.71,-28.64 594.96,-25.04 600.2,-21.44 605.44,-17.85 610.67,-14.26 615.9,-10.67 621.12,-7.08 626.34,-3.5 631.56,0.08 636.77,3.66 641.98,7.23 647.18,10.81 652.38,14.38 657.58,17.94 662.77,21.51 667.96,25.07 673.14,28.63 678.32,32.19 683.49,35.74 688.67,39.29 693.83,42.84 699,46.39 704.16,49.93 709.31,53.47 714.46,57.01 719.61,60.55 724.75,64.08 729.89,67.61 735.03,71.14 740.16,74.66 745.29,78.19 750.41,81.71 755.53,85.22 760.65,88.74 765.76,92.25 770.87,95.76 775.97,99.27 781.07,102.77" stroke-width="1"/>
</g>
<polyline points="57.63,518.75 60.14,518.19 62.66,517.62 65.17,517.04 67.69,516.44 70.2,515.84 72.72,515.22 75.23,514.58 77.75,513.94 80.26,513.28 82.77,512.61 85.29,511.92 87.8,511.23 90.31,510.51 92.83,509.78 95.34,509.04 97.85,508.29 100.37,507.51 102.88,506.73 105.39,505.92 107.9,505.1 110.36,504.26 112.82,503.4 115.29,502.52 117.75,501.63 120.21,500.71 122.67,499.78 125.13,498.83 127.59,497.86 130.05,496.88 132.51,495.87 134.97,494.84 137.43,493.8 139.89,492.73 142.35,491.64 144.81,490.53 147.26,489.4 149.72,488.24 152.18,487.06 154.64,485.87 157.1,484.64 159.56,483.54 162.03,482.42 164.49,481.28 166.95,480.13 169.42,478.95 171.88,477.76 174.34,476.54 176.81,475.31 179.27,474.05 181.74,472.78 184.2,471.48 186.66,470.17 189.13,468.83 191.59,467.47 194.06,466.08 196.52,464.68 198.99,463.25 201.45,461.8 203.91,460.33 206.38,458.83 208.85,457.3 211.31,455.76 213.78,454.19 216.24,452.59 218.71,450.97 221.17,449.32 223.64,447.65 226.11,445.94 228.57,444.22 231.04,442.46 233.51,440.68 235.98,438.87 238.45,437.03 240.91,435.16 243.38,433.26 245.85,431.33 248.32,429.37 250.79,427.39 253.26,425.37 255.74,423.32 258.21,421.23 260.68,419.12 263.15,416.97 265.62,414.79 268.1,412.57 270.57,410.32 273.05,408.04 275.52,405.72 278,403.37 280.47,400.98 282.95,398.55 285.43,396.09 287.91,393.58 290.39,391.04 292.87,388.47 295.35,385.85 297.83,383.19 300.31,380.49 302.79,377.76 305.28,374.98 307.76,372.15 310.25,369.29 312.74,366.38 315.22,363.43 317.71,360.44 320.2,357.4 322.69,354.31 325.19,351.18 327.68,348 330.17,344.78 332.67,341.5 335.17,338.18 337.66,334.81 340.16,331.39 342.66,327.92 345.17,324.4 347.67,320.82 350.17,317.19 352.68,313.51 355.19,309.78 357.7,305.99 360.21,302.14 362.72,298.24 365.23,294.28 367.75,290.27 370.27,286.19 372.79,282.06 375.31,277.86 377.83,273.61 380.36,269.29 382.88,264.91 385.41,260.46 387.94,255.96 390.48,251.38 393.01,246.74 395.55,242.04 398.09,237.26 400.63,232.42 403.17,227.51 405.72,222.52 408.27,217.47 410.82,212.34 413.38,207.14 415.93,201.86 418.49,196.51 421.06,191.08 423.62,185.58 426.19,179.99 428.76,174.33 431.34,168.58 433.91,162.75 436.49,156.84 439.08,150.85 441.66,144.77 444.25,138.61 446.85,132.35 449.45,126.01 452.05,119.58 454.65,113.05 457.26,106.44 459.87,99.82 462.49,93.1 465.11,86.3 467.73,79.39 470.36,72.4 472.99,65.3 473.05,64.5"/>
<polyline points="473.05,64.5 771.92,64.5 755.37,543.65 58.78,543.65 57.63,518.75"/>
<line x1="58.78" y1="543.65" x2="58.78" y2="547.15"/>
<text x="58.78" y="553.95" font-size="6.5" text-anchor="middle">-10</text>
<line x1="109.46" y1="543.65" x2="109.46" y2="547.15"/>
<text x="109.46" y="553.95" font-size="6.5" text-anchor="middle">-5</text>
<line x1="159.15" y1="543.65" x2="159.15" y2="547.15"/>
<text x="159.15" y="553.95" font-size="6.5" text-anchor="middle">0</text>
<line x1="208.83" y1="543.65" x2="208.83" y2="547.15"/>
<text x="208.83" y="553.95" font-size="6.5" text-anchor="middle">5</text>
<line x1="258.52" y1="543.65" x2="258.52" y2="547.15"/>
<text x="258.52" y="553.95" font-size="6.5" text-anchor="middle">10</text>
<line x1="308.2" y1="543.65" x2="308.2" y2="547.15"/>
<text x="308.2" y="553.95" font-size="6.5" text-anchor="middle">15</text>
<line x1="357.89" y1="543.65" x2="357.89" y2="547.15"/>
<text x="357.89" y="553.95" font-size="6.5" text-anchor="middle">20</text>
<line x1="407.57" y1="543.65" x2="407.57" y2="547.15"/>
<text x="407.57" y="553.95" font-size="6.5" text-anchor="middle">25</text>
<line x1="457.26" y1="543.65" x2="457.26" y2="547.15"/>
<text x="457.26" y="553.95" font-size="6.5" text-anchor="middle">30</text>
<line x1="506.95" y1="543.65" x2="506.95" y2="547.15"/>
<text x="506.95" y="553.95" font-size="6.5" text-anchor="middle">35</text>
<line x1="556.63" y1="543.65" x2="556.63" y2="547.15"/>
<text x="556.63" y="553.95" font-size="6.5" text-anchor="middle">40</text>
<line x1="606.32" y1="543.65" x2="606.32" y2="547.15"/>
<text x="606.32" y="553.95" font-size="6.5" text-anchor="middle">45</text>
<line x1="656" y1="543.65" x2="656" y2="547.15"/>
<text x="656" y="553.95" font-size="6.5" text-anchor="middle">50</text>
<line x1="705.69" y1="543.65" x2="705.69" y2="547.15"/>
<text x="705.69" y="553.95" font-size="6.5" text-anchor="middle">55</text>
<line x1="755.37" y1="543.65" x2="755.37" y2="547.15"/>
<text x="755.37" y="553.95" font-size="6.5" text-anchor="middle">60</text>
<line x1="755.37" y1="543.65" x2="758.57" y2="543.65"/>
<text x="759.07" y="546.65" font-size="6.5" text-anchor="start">0.000</text>
<line x1="755.92" y1="527.77" x2="759.12" y2="527.77"/>
<text x="759.62" y="530.77" font-size="6.5" text-anchor="start">0.001</text>
<line x1="756.47" y1="511.88" x2="759.67" y2="511.88"/>
<text x="760.17" y="514.88" font-size="6.5" text-anchor="start">0.002</text>
<line x1="757.03" y1="495.99" x2="760.23" y2="495.99"/>
<text x="760.73" y="498.99" font-size="6.5" text-anchor="start">0.003</text>
<line x1="757.58" y1="480.09" x2="760.78" y2="480.09"/>
<text x="761.28" y="483.09" font-size="6.5" text-anchor="start">0.004</text>
<line x1="758.13" y1="464.19" x2="761.33" y2="464.19"/>
<text x="761.83" y="467.19" font-size="6.5" text-anchor="start">0.005</text>
<line x1="758.68" y1="448.29" x2="761.88" y2="448.29"/>
<text x="762.38" y="451.29" font-size="6.5" text-anchor="start">0.006</text>
<line x1="759.23" y1="432.38" x2="762.43" y2="432.38"/>
<text x="762.93" y="435.38" font-size="6.5" text-anchor="start">0.007</text>
<line x1="759.78" y1="416.46" x2="762.98" y2="416.46"/>
<text x="763.48" y="419.46" font-size="6.5" text-anchor="start">0.008</text>
<line x1="760.34" y1="400.54" x2="763.54" y2="400.54"/>
<text x="764.04" y="403.54" font-size="6.5" text-anchor="start">0.009</text>
<line x1="760.89" y1="384.62" x2="764.09" y2="384.62"/>
<text x="764.59" y="387.62" font-size="6.5" text-anchor="start">0.010</text>
<line x1="761.44" y1="368.69" x2="764.64" y2="368.69"/>
<text x="765.14" y="371.69" font-size="6.5" text-anchor="start">0.011</text>
<line x1="761.99" y1="352.76" x2="765.19" y2="352.76"/>
<text x="765.69" y="355.76" font-size="6.5" text-anchor="start">0.012</text>
<line x1="762.54" y1="336.82" x2="765.74" y2="336.82"/>
<text x="766.24" y="339.82" font-size="6.5" text-anchor="start">0.013</text>
<line x1="763.1" y1="320.88" x2="766.3" y2="320.88"/>
<text x="766.8" y="323.88" font-size="6.5" text-anchor="start">0.014</text>
<line x1="763.65" y1="304.93" x2="766.85" y2="304.93"/>
<text x="767.35" y="307.93" font-size="6.5" text-anchor="start">0.015</text>
<line x1="764.2" y1="288.98" x2="767.4" y2="288.98"/>
<text x="767.9" y="291.98" font-size="6.5" text-anchor="start">0.016</text>
<line x1="764.75" y1="273.02" x2="767.95" y2="273.02"/>
<text x="768.45" y="276.02" font-size="6.5" text-anchor="start">0.017</text>
<line x1="765.3" y1="257.06" x2="768.5" y2="257.06"/>
<text x="769" y="260.06" font-size="6.5" text-anchor="start">0.018</text>
<line x1="765.85" y1="241.09" x2="769.05" y2="241.09"/>
<text x="769.55" y="244.09" font-size="6.5" text-anchor="start">0.019</text>
<line x1="766.41" y1="225.12" x2="769.61" y2="225.12"/>
<text x="770.11" y="228.12" font-size="6.5" text-anchor="start">0.020</text>
<line x1="766.96" y1="209.14" x2="770.16" y2="209.14"/>
<text x="770.66" y="212.14" font-size="6.5" text-anchor="start">0.021</text>
<line x1="767.51" y1="193.16" x2="770.71" y2="193.16"/>
<text x="771.21" y="196.16" font-size="6.5" text-anchor="start">0.022</text>
<line x1="768.06" y1="177.18" x2="771.26" y2="177.18"/>
<text x="771.76" y="180.18" font-size="6.5" text-anchor="start">0.023</text>
<line x1="768.61" y1="161.19" x2="771.81" y2="161.19"/>
<text x="772.31" y="164.19" font-size="6.5" text-anchor="start">0.024</text>
<line x1="769.16" y1="145.19" x2="772.36" y2="145.19"/>
<text x="772.86" y="148.19" font-size="6.5" text-anchor="start">0.025</text>
<line x1="769.72" y1="129.19" x2="772.92" y2="129.19"/>
<text x="773.42" y="132.19" font-size="6.5" text-anchor="start">0.026</text>
<line x1="770.27" y1="113.19" x2="773.47" y2="113.19"/>
<text x="773.97" y="116.19" font-size="6.5" text-anchor="start">0.027</text>
<line x1="770.82" y1="97.18" x2="774.02" y2="97.18"/>
<text x="774.52" y="100.18" font-size="6.5" text-anchor="start">0.028</text>
<line x1="771.37" y1="81.17" x2="774.57" y2="81.17"/>
<text x="775.07" y="84.17" font-size="6.5" text-anchor="start">0.029</text>
<line x1="771.92" y1="64.5" x2="775.12" y2="64.5"/>
<text x="775.62" y="66.7" font-size="6.5" text-anchor="start">0.030</text>
<text x="767.55" y="61.3" font-size="6.5" text-anchor="middle">20</text>
<text x="692.83" y="61.3" font-size="6.5" text-anchor="middle">30</text>
<text x="639.46" y="61.3" font-size="6.5" text-anchor="middle">40</text>
<text x="598.23" y="61.3" font-size="6.5" text-anchor="middle">50</text>
<text x="564.81" y="61.3" font-size="6.5" text-anchor="middle">60</text>
<text x="536.79" y="61.3" font-size="6.5" text-anchor="middle">70</text>
<text x="512.74" y="61.3" font-size="6.5" text-anchor="middle">80</text>
<text x="491.71" y="61.3" font-size="6.5" text-anchor="middle">90</text>
<line x1="57.63" y1="518.75" x2="54.95" y2="517.41"/>
<text x="54.45" y="518.61" font-size="6.5" text-anchor="end">-10</text>
<line x1="107.9" y1="505.1" x2="105.2" y2="503.79"/>
<text x="104.7" y="504.99" font-size="6.5" text-anchor="end">-5</text>
<line x1="157.1" y1="484.64" x2="154.46" y2="483.21"/>
<text x="153.96" y="484.41" font-size="6.5" text-anchor="end">0</text>
<line x1="206.38" y1="458.83" x2="203.74" y2="457.41"/>
<text x="203.24" y="458.61" font-size="6.5" text-anchor="end">5</text>
<line x1="255.74" y1="423.32" x2="253.1" y2="421.88"/>
<text x="252.6" y="423.08" font-size="6.5" text-anchor="end">10</text>
<line x1="305.28" y1="374.98" x2="302.68" y2="373.47"/>
<text x="302.18" y="374.67" font-size="6.5" text-anchor="end">15</text>
<line x1="355.19" y1="309.78" x2="352.67" y2="308.14"/>
<text x="352.17" y="309.34" font-size="6.5" text-anchor="end">20</text>
<line x1="405.72" y1="222.52" x2="403.36" y2="220.67"/>
<text x="402.86" y="221.87" font-size="6.5" text-anchor="end">25</text>
<line x1="457.26" y1="106.44" x2="455.14" y2="104.31"/>
<text x="454.64" y="105.51" font-size="6.5" text-anchor="end">30</text>
<line x1="66.35" y1="516.76" x2="61.53" y2="501.51"/>
<text x="62.83" y="498.51" font-size="6.5" text-anchor="middle" transform="rotate(-22 62.83 498.51)">0.75</text>
<line x1="221.72" y1="448.95" x2="217.01" y2="433.66"/>
<text x="218.31" y="430.66" font-size="6.5" text-anchor="middle" transform="rotate(-22 218.31 430.66)">0.80</text>
<line x1="354.9" y1="310.21" x2="350.21" y2="294.92"/>
<text x="351.51" y="291.92" font-size="6.5" text-anchor="middle" transform="rotate(-22 351.51 291.92)">0.85</text>
<line x1="463.82" y1="89.64" x2="459.17" y2="74.34"/>
<text x="460.47" y="71.34" font-size="6.5" text-anchor="middle" transform="rotate(-22 460.47 71.34)">0.90</text>
<line x1="18.42" y1="517.19" x2="88.8" y2="405.64"/>
<line x1="21.3" y1="519.01" x2="91.68" y2="407.46"/>
<line x1="24.09" y1="520.77" x2="94.47" y2="409.22"/>
<line x1="26.88" y1="522.53" x2="97.26" y2="410.98"/>
<line x1="18.42" y1="517.19" x2="26.88" y2="522.53"/>
<line x1="88.8" y1="405.64" x2="97.26" y2="410.98"/>
<line x1="25.49" y1="518.54" x2="28.28" y2="520.3"/>
<line x1="24.11" y1="514.55" x2="29.69" y2="518.07"/>
<line x1="28.31" y1="514.08" x2="31.1" y2="515.84"/>
<line x1="26.93" y1="510.08" x2="32.51" y2="513.61"/>
<line x1="31.12" y1="509.61" x2="33.92" y2="511.37"/>
<line x1="29.74" y1="505.62" x2="35.32" y2="509.14"/>
<line x1="33.94" y1="505.15" x2="36.73" y2="506.91"/>
<line x1="32.56" y1="501.16" x2="38.14" y2="504.68"/>
<line x1="36.75" y1="500.69" x2="39.55" y2="502.45"/>
<line x1="32.5" y1="494.88" x2="40.95" y2="500.22"/>
<line x1="39.57" y1="496.23" x2="42.36" y2="497.99"/>
<line x1="38.19" y1="492.24" x2="43.77" y2="495.76"/>
<line x1="42.38" y1="491.77" x2="45.18" y2="493.53"/>
<line x1="41" y1="487.77" x2="46.58" y2="491.3"/>
<line x1="45.2" y1="487.3" x2="47.99" y2="489.06"/>
<line x1="43.82" y1="483.31" x2="49.4" y2="486.83"/>
<line x1="48.02" y1="482.84" x2="50.81" y2="484.6"/>
<line x1="46.63" y1="478.85" x2="52.21" y2="482.37"/>
<line x1="50.83" y1="478.38" x2="53.62" y2="480.14"/>
<line x1="46.57" y1="472.57" x2="55.03" y2="477.91"/>
<line x1="53.65" y1="473.92" x2="56.44" y2="475.68"/>
<line x1="52.26" y1="469.93" x2="57.84" y2="473.45"/>
<line x1="56.46" y1="469.45" x2="59.25" y2="471.22"/>
<line x1="55.08" y1="465.46" x2="60.66" y2="468.98"/>
<line x1="59.28" y1="464.99" x2="62.07" y2="466.75"/>
<line x1="57.89" y1="461" x2="63.47" y2="464.52"/>
<line x1="62.09" y1="460.53" x2="64.88" y2="462.29"/>
<line x1="60.71" y1="456.54" x2="66.29" y2="460.06"/>
<line x1="64.91" y1="456.07" x2="67.7" y2="457.83"/>
<line x1="60.65" y1="450.26" x2="69.11" y2="455.6"/>
<line x1="67.72" y1="451.61" x2="70.51" y2="453.37"/>
<line x1="66.34" y1="447.61" x2="71.92" y2="451.14"/>
<line x1="70.54" y1="447.14" x2="73.33" y2="448.91"/>
<line x1="69.15" y1="443.15" x2="74.74" y2="446.67"/>
<line x1="73.35" y1="442.68" x2="76.14" y2="444.44"/>
<line x1="71.97" y1="438.69" x2="77.55" y2="442.21"/>
<line x1="76.17" y1="438.22" x2="78.96" y2="439.98"/>
<line x1="74.78" y1="434.23" x2="80.37" y2="437.75"/>
<line x1="78.98" y1="433.76" x2="81.77" y2="435.52"/>
<line x1="74.72" y1="427.95" x2="83.18" y2="433.29"/>
<line x1="81.8" y1="429.3" x2="84.59" y2="431.06"/>
<line x1="80.41" y1="425.3" x2="86" y2="428.83"/>
<line x1="84.61" y1="424.83" x2="87.4" y2="426.59"/>
<line x1="83.23" y1="420.84" x2="88.81" y2="424.36"/>
<line x1="87.43" y1="420.37" x2="90.22" y2="422.13"/>
<line x1="86.05" y1="416.38" x2="91.63" y2="419.9"/>
<line x1="90.24" y1="415.91" x2="93.03" y2="417.67"/>
<line x1="88.86" y1="411.92" x2="94.44" y2="415.44"/>
<line x1="93.06" y1="411.45" x2="95.85" y2="413.21"/>
<text x="16.56" y="516.02" font-size="6.5" text-anchor="middle" transform="rotate(-57.75 16.56 516.02)">-10</text>
<text x="30.64" y="493.71" font-size="6.5" text-anchor="middle" transform="rotate(-57.75 30.64 493.71)">-5</text>
<text x="44.71" y="471.4" font-size="6.5" text-anchor="middle" transform="rotate(-57.75 44.71 471.4)">0</text>
<text x="58.79" y="449.09" font-size="6.5" text-anchor="middle" transform="rotate(-57.75 58.79 449.09)">5</text>
<text x="72.86" y="426.78" font-size="6.5" text-anchor="middle" transform="rotate(-57.75 72.86 426.78)">10</text>
<text x="86.94" y="404.47" font-size="6.5" text-anchor="middle" transform="rotate(-57.75 86.94 404.47)">15</text>
<line x1="112.3" y1="420.47" x2="182.68" y2="308.92"/>
<line x1="115.18" y1="422.28" x2="185.56" y2="310.73"/>
<line x1="117.97" y1="424.04" x2="188.35" y2="312.49"/>
<line x1="120.76" y1="425.8" x2="191.14" y2="314.25"/>
<line x1="112.3" y1="420.47" x2="120.76" y2="425.8"/>
<line x1="182.68" y1="308.92" x2="191.14" y2="314.25"/>
<line x1="119.37" y1="421.81" x2="122.17" y2="423.57"/>
<line x1="117.99" y1="417.82" x2="123.57" y2="421.34"/>
<line x1="122.19" y1="417.35" x2="124.98" y2="419.11"/>
<line x1="120.81" y1="413.36" x2="126.39" y2="416.88"/>
<line x1="125" y1="412.89" x2="127.8" y2="414.65"/>
<line x1="123.62" y1="408.9" x2="129.2" y2="412.42"/>
<line x1="127.82" y1="408.43" x2="130.61" y2="410.19"/>
<line x1="126.44" y1="404.43" x2="132.02" y2="407.96"/>
<line x1="130.63" y1="403.96" x2="133.43" y2="405.72"/>
<line x1="126.38" y1="398.16" x2="134.83" y2="403.49"/>
<line x1="133.45" y1="399.5" x2="136.24" y2="401.26"/>
<line x1="132.07" y1="395.51" x2="137.65" y2="399.03"/>
<line x1="136.27" y1="395.04" x2="139.06" y2="396.8"/>
<line x1="134.88" y1="391.05" x2="140.46" y2="394.57"/>
<line x1="139.08" y1="390.58" x2="141.87" y2="392.34"/>
<line x1="137.7" y1="386.59" x2="143.28" y2="390.11"/>
<line x1="141.9" y1="386.12" x2="144.69" y2="387.88"/>
<line x1="140.51" y1="382.12" x2="146.09" y2="385.65"/>
<line x1="144.71" y1="381.65" x2="147.5" y2="383.41"/>
<line x1="140.45" y1="375.85" x2="148.91" y2="381.18"/>
<line x1="147.53" y1="377.19" x2="150.32" y2="378.95"/>
<line x1="146.14" y1="373.2" x2="151.72" y2="376.72"/>
<line x1="150.34" y1="372.73" x2="153.13" y2="374.49"/>
<line x1="148.96" y1="368.74" x2="154.54" y2="372.26"/>
<line x1="153.16" y1="368.27" x2="155.95" y2="370.03"/>
<line x1="151.77" y1="364.28" x2="157.36" y2="367.8"/>
<line x1="155.97" y1="363.8" x2="158.76" y2="365.57"/>
<line x1="154.59" y1="359.81" x2="160.17" y2="363.33"/>
<line x1="158.79" y1="359.34" x2="161.58" y2="361.1"/>
<line x1="154.53" y1="353.54" x2="162.99" y2="358.87"/>
<line x1="161.6" y1="354.88" x2="164.39" y2="356.64"/>
<line x1="160.22" y1="350.89" x2="165.8" y2="354.41"/>
<line x1="164.42" y1="350.42" x2="167.21" y2="352.18"/>
<line x1="163.03" y1="346.43" x2="168.62" y2="349.95"/>
<line x1="167.23" y1="345.96" x2="170.02" y2="347.72"/>
<line x1="165.85" y1="341.96" x2="171.43" y2="345.49"/>
<line x1="170.05" y1="341.49" x2="172.84" y2="343.26"/>
<line x1="168.66" y1="337.5" x2="174.25" y2="341.02"/>
<line x1="172.86" y1="337.03" x2="175.65" y2="338.79"/>
<line x1="168.6" y1="331.23" x2="177.06" y2="336.56"/>
<line x1="175.68" y1="332.57" x2="178.47" y2="334.33"/>
<line x1="174.3" y1="328.58" x2="179.88" y2="332.1"/>
<line x1="178.49" y1="328.11" x2="181.28" y2="329.87"/>
<line x1="177.11" y1="324.12" x2="182.69" y2="327.64"/>
<line x1="181.31" y1="323.65" x2="184.1" y2="325.41"/>
<line x1="179.93" y1="319.65" x2="185.51" y2="323.18"/>
<line x1="184.12" y1="319.18" x2="186.92" y2="320.94"/>
<line x1="182.74" y1="315.19" x2="188.32" y2="318.71"/>
<line x1="186.94" y1="314.72" x2="189.73" y2="316.48"/>
<text x="124.52" y="396.98" font-size="6.5" text-anchor="middle" transform="rotate(-57.75 124.52 396.98)">20</text>
<text x="138.59" y="374.67" font-size="6.5" text-anchor="middle" transform="rotate(-57.75 138.59 374.67)">25</text>
<text x="152.67" y="352.36" font-size="6.5" text-anchor="middle" transform="rotate(-57.75 152.67 352.36)">30</text>
<text x="166.74" y="330.05" font-size="6.5" text-anchor="middle" transform="rotate(-57.75 166.74 330.05)">35</text>
<text x="180.82" y="307.74" font-size="6.5" text-anchor="middle" transform="rotate(-57.75 180.82 307.74)">40</text>
<line x1="205.7" y1="323.44" x2="276.08" y2="211.89"/>
<line x1="208.58" y1="325.25" x2="278.96" y2="213.7"/>
<line x1="211.37" y1="327.01" x2="281.75" y2="215.46"/>
<line x1="214.16" y1="328.78" x2="284.54" y2="217.22"/>
<line x1="205.7" y1="323.44" x2="214.16" y2="328.78"/>
<line x1="276.08" y1="211.89" x2="284.54" y2="217.22"/>
<line x1="212.77" y1="324.78" x2="215.57" y2="326.54"/>
<line x1="211.39" y1="320.79" x2="216.97" y2="324.31"/>
<line x1="215.59" y1="320.32" x2="218.38" y2="322.08"/>
<line x1="214.21" y1="316.33" x2="219.79" y2="319.85"/>
<line x1="218.4" y1="315.86" x2="221.2" y2="317.62"/>
<line x1="217.02" y1="311.87" x2="222.6" y2="315.39"/>
<line x1="221.22" y1="311.4" x2="224.01" y2="313.16"/>
<line x1="219.84" y1="307.41" x2="225.42" y2="310.93"/>
<line x1="224.03" y1="306.93" x2="226.83" y2="308.7"/>
<line x1="219.78" y1="301.13" x2="228.23" y2="306.46"/>
<line x1="226.85" y1="302.47" x2="229.64" y2="304.23"/>
<line x1="225.47" y1="298.48" x2="231.05" y2="302"/>
<line x1="229.67" y1="298.01" x2="232.46" y2="299.77"/>
<line x1="228.28" y1="294.02" x2="233.86" y2="297.54"/>
<line x1="232.48" y1="293.55" x2="235.27" y2="295.31"/>
<line x1="231.1" y1="289.56" x2="236.68" y2="293.08"/>
<line x1="235.3" y1="289.09" x2="238.09" y2="290.85"/>
<line x1="233.91" y1="285.09" x2="239.49" y2="288.62"/>
<line x1="238.11" y1="284.62" x2="240.9" y2="286.39"/>
<line x1="233.85" y1="278.82" x2="242.31" y2="284.15"/>
<line x1="240.93" y1="280.16" x2="243.72" y2="281.92"/>
<line x1="239.54" y1="276.17" x2="245.12" y2="279.69"/>
<line x1="243.74" y1="275.7" x2="246.53" y2="277.46"/>
<line x1="242.36" y1="271.71" x2="247.94" y2="275.23"/>
<line x1="246.56" y1="271.24" x2="249.35" y2="273"/>
<line x1="245.17" y1="267.25" x2="250.76" y2="270.77"/>
<line x1="249.37" y1="266.78" x2="252.16" y2="268.54"/>
<line x1="247.99" y1="262.78" x2="253.57" y2="266.31"/>
<line x1="252.19" y1="262.31" x2="254.98" y2="264.07"/>
<line x1="247.93" y1="256.51" x2="256.39" y2="261.84"/>
<line x1="255" y1="257.85" x2="257.79" y2="259.61"/>
<line x1="253.62" y1="253.86" x2="259.2" y2="257.38"/>
<line x1="257.82" y1="253.39" x2="260.61" y2="255.15"/>
<line x1="256.43" y1="249.4" x2="262.02" y2="252.92"/>
<line x1="260.63" y1="248.93" x2="263.42" y2="250.69"/>
<line x1="259.25" y1="244.94" x2="264.83" y2="248.46"/>
<line x1="263.45" y1="244.47" x2="266.24" y2="246.23"/>
<line x1="262.06" y1="240.47" x2="267.65" y2="244"/>
<line x1="266.26" y1="240" x2="269.05" y2="241.76"/>
<line x1="262" y1="234.2" x2="270.46" y2="239.53"/>
<line x1="269.08" y1="235.54" x2="271.87" y2="237.3"/>
<line x1="267.7" y1="231.55" x2="273.28" y2="235.07"/>
<line x1="271.89" y1="231.08" x2="274.68" y2="232.84"/>
<line x1="270.51" y1="227.09" x2="276.09" y2="230.61"/>
<line x1="274.71" y1="226.62" x2="277.5" y2="228.38"/>
<line x1="273.33" y1="222.63" x2="278.91" y2="226.15"/>
<line x1="277.52" y1="222.16" x2="280.32" y2="223.92"/>
<line x1="276.14" y1="218.16" x2="281.72" y2="221.68"/>
<line x1="280.34" y1="217.69" x2="283.13" y2="219.45"/>
<text x="217.92" y="299.95" font-size="6.5" text-anchor="middle" transform="rotate(-57.75 217.92 299.95)">45</text>
<text x="231.99" y="277.64" font-size="6.5" text-anchor="middle" transform="rotate(-57.75 231.99 277.64)">50</text>
<text x="246.07" y="255.33" font-size="6.5" text-anchor="middle" transform="rotate(-57.75 246.07 255.33)">55</text>
<text x="260.14" y="233.02" font-size="6.5" text-anchor="middle" transform="rotate(-57.75 260.14 233.02)">60</text>
<text x="274.22" y="210.71" font-size="6.5" text-anchor="middle" transform="rotate(-57.75 274.22 210.71)">65</text>
<line x1="299.1" y1="226.41" x2="369.48" y2="114.86"/>
<line x1="301.98" y1="228.22" x2="372.36" y2="116.67"/>
<line x1="304.77" y1="229.99" x2="375.15" y2="118.43"/>
<line x1="307.56" y1="231.75" x2="377.94" y2="120.19"/>
<line x1="299.1" y1="226.41" x2="307.56" y2="231.75"/>
<line x1="369.48" y1="114.86" x2="377.94" y2="120.19"/>
<line x1="306.17" y1="227.75" x2="308.97" y2="229.52"/>
<line x1="304.79" y1="223.76" x2="310.37" y2="227.28"/>
<line x1="308.99" y1="223.29" x2="311.78" y2="225.05"/>
<line x1="307.61" y1="219.3" x2="313.19" y2="222.82"/>
<line x1="311.8" y1="218.83" x2="314.6" y2="220.59"/>
<line x1="310.42" y1="214.84" x2="316" y2="218.36"/>
<line x1="314.62" y1="214.37" x2="317.41" y2="216.13"/>
<line x1="313.24" y1="210.38" x2="318.82" y2="213.9"/>
<line x1="317.43" y1="209.91" x2="320.23" y2="211.67"/>
<line x1="313.18" y1="204.1" x2="321.63" y2="209.44"/>
<line x1="320.25" y1="205.44" x2="323.04" y2="207.2"/>
<line x1="318.87" y1="201.45" x2="324.45" y2="204.97"/>
<line x1="323.07" y1="200.98" x2="325.86" y2="202.74"/>
<line x1="321.68" y1="196.99" x2="327.26" y2="200.51"/>
<line x1="325.88" y1="196.52" x2="328.67" y2="198.28"/>
<line x1="324.5" y1="192.53" x2="330.08" y2="196.05"/>
<line x1="328.7" y1="192.06" x2="331.49" y2="193.82"/>
<line x1="327.31" y1="188.07" x2="332.89" y2="191.59"/>
<line x1="331.51" y1="187.6" x2="334.3" y2="189.36"/>
<line x1="327.25" y1="181.79" x2="335.71" y2="187.13"/>
<line x1="334.33" y1="183.13" x2="337.12" y2="184.89"/>
<line x1="332.94" y1="179.14" x2="338.52" y2="182.66"/>
<line x1="337.14" y1="178.67" x2="339.93" y2="180.43"/>
<line x1="335.76" y1="174.68" x2="341.34" y2="178.2"/>
<line x1="339.96" y1="174.21" x2="342.75" y2="175.97"/>
<line x1="338.57" y1="170.22" x2="344.16" y2="173.74"/>
<line x1="342.77" y1="169.75" x2="345.56" y2="171.51"/>
<line x1="341.39" y1="165.76" x2="346.97" y2="169.28"/>
<line x1="345.59" y1="165.29" x2="348.38" y2="167.05"/>
<line x1="341.33" y1="159.48" x2="349.79" y2="164.81"/>
<line x1="348.4" y1="160.82" x2="351.19" y2="162.58"/>
<line x1="347.02" y1="156.83" x2="352.6" y2="160.35"/>
<line x1="351.22" y1="156.36" x2="354.01" y2="158.12"/>
<line x1="349.83" y1="152.37" x2="355.42" y2="155.89"/>
<line x1="354.03" y1="151.9" x2="356.82" y2="153.66"/>
<line x1="352.65" y1="147.91" x2="358.23" y2="151.43"/>
<line x1="356.85" y1="147.44" x2="359.64" y2="149.2"/>
<line x1="355.46" y1="143.44" x2="361.05" y2="146.97"/>
<line x1="359.66" y1="142.97" x2="362.45" y2="144.74"/>
<line x1="355.4" y1="137.17" x2="363.86" y2="142.5"/>
<line x1="362.48" y1="138.51" x2="365.27" y2="140.27"/>
<line x1="361.1" y1="134.52" x2="366.68" y2="138.04"/>
<line x1="365.29" y1="134.05" x2="368.08" y2="135.81"/>
<line x1="363.91" y1="130.06" x2="369.49" y2="133.58"/>
<line x1="368.11" y1="129.59" x2="370.9" y2="131.35"/>
<line x1="366.73" y1="125.6" x2="372.31" y2="129.12"/>
<line x1="370.92" y1="125.13" x2="373.72" y2="126.89"/>
<line x1="369.54" y1="121.13" x2="375.12" y2="124.66"/>
<line x1="373.74" y1="120.66" x2="376.53" y2="122.42"/>
<text x="311.32" y="202.93" font-size="6.5" text-anchor="middle" transform="rotate(-57.75 311.32 202.93)">70</text>
<text x="325.39" y="180.62" font-size="6.5" text-anchor="middle" transform="rotate(-57.75 325.39 180.62)">75</text>
<text x="339.47" y="158.31" font-size="6.5" text-anchor="middle" transform="rotate(-57.75 339.47 158.31)">80</text>
<text x="353.54" y="135.99" font-size="6.5" text-anchor="middle" transform="rotate(-57.75 353.54 135.99)">85</text>
<text x="367.62" y="113.68" font-size="6.5" text-anchor="middle" transform="rotate(-57.75 367.62 113.68)">90</text>
<line x1="392.5" y1="129.38" x2="462.88" y2="17.83"/>
<line x1="395.38" y1="131.2" x2="465.76" y2="19.64"/>
<line x1="398.17" y1="132.96" x2="468.55" y2="21.4"/>
<line x1="400.96" y1="134.72" x2="471.34" y2="23.17"/>
<line x1="392.5" y1="129.38" x2="400.96" y2="134.72"/>
<line x1="462.88" y1="17.83" x2="471.34" y2="23.17"/>
<line x1="399.57" y1="130.73" x2="402.37" y2="132.49"/>
<line x1="398.19" y1="126.73" x2="403.77" y2="130.26"/>
<line x1="402.39" y1="126.26" x2="405.18" y2="128.02"/>
<line x1="401.01" y1="122.27" x2="406.59" y2="125.79"/>
<line x1="405.2" y1="121.8" x2="408" y2="123.56"/>
<line x1="403.82" y1="117.81" x2="409.4" y2="121.33"/>
<line x1="408.02" y1="117.34" x2="410.81" y2="119.1"/>
<line x1="406.64" y1="113.35" x2="412.22" y2="116.87"/>
<line x1="410.83" y1="112.88" x2="413.63" y2="114.64"/>
<line x1="406.58" y1="107.07" x2="415.03" y2="112.41"/>
<line x1="413.65" y1="108.42" x2="416.44" y2="110.18"/>
<line x1="412.27" y1="104.42" x2="417.85" y2="107.94"/>
<line x1="416.47" y1="103.95" x2="419.26" y2="105.71"/>
<line x1="415.08" y1="99.96" x2="420.66" y2="103.48"/>
<line x1="419.28" y1="99.49" x2="422.07" y2="101.25"/>
<line x1="417.9" y1="95.5" x2="423.48" y2="99.02"/>
<line x1="422.1" y1="95.03" x2="424.89" y2="96.79"/>
<line x1="420.71" y1="91.04" x2="426.29" y2="94.56"/>
<line x1="424.91" y1="90.57" x2="427.7" y2="92.33"/>
<line x1="420.65" y1="84.76" x2="429.11" y2="90.1"/>
<line x1="427.73" y1="86.1" x2="430.52" y2="87.87"/>
<line x1="426.34" y1="82.11" x2="431.92" y2="85.63"/>
<line x1="430.54" y1="81.64" x2="433.33" y2="83.4"/>
<line x1="429.16" y1="77.65" x2="434.74" y2="81.17"/>
<line x1="433.36" y1="77.18" x2="436.15" y2="78.94"/>
<line x1="431.97" y1="73.19" x2="437.56" y2="76.71"/>
<line x1="436.17" y1="72.72" x2="438.96" y2="74.48"/>
<line x1="434.79" y1="68.73" x2="440.37" y2="72.25"/>
<line x1="438.99" y1="68.26" x2="441.78" y2="70.02"/>
<line x1="434.73" y1="62.45" x2="443.19" y2="67.79"/>
<line x1="441.8" y1="63.79" x2="444.59" y2="65.55"/>
<line x1="440.42" y1="59.8" x2="446" y2="63.32"/>
<line x1="444.62" y1="59.33" x2="447.41" y2="61.09"/>
<line x1="443.23" y1="55.34" x2="448.82" y2="58.86"/>
<line x1="447.43" y1="54.87" x2="450.22" y2="56.63"/>
<line x1="446.05" y1="50.88" x2="451.63" y2="54.4"/>
<line x1="450.25" y1="50.41" x2="453.04" y2="52.17"/>
<line x1="448.86" y1="46.42" x2="454.45" y2="49.94"/>
<line x1="453.06" y1="45.95" x2="455.85" y2="47.71"/>
<line x1="448.8" y1="40.14" x2="457.26" y2="45.48"/>
<line x1="455.88" y1="41.48" x2="458.67" y2="43.24"/>
<line x1="454.5" y1="37.49" x2="460.08" y2="41.01"/>
<line x1="458.69" y1="37.02" x2="461.48" y2="38.78"/>
<line x1="457.31" y1="33.03" x2="462.89" y2="36.55"/>
<line x1="461.51" y1="32.56" x2="464.3" y2="34.32"/>
<line x1="460.13" y1="28.57" x2="465.71" y2="32.09"/>
<line x1="464.32" y1="28.1" x2="467.12" y2="29.86"/>
<line x1="462.94" y1="24.11" x2="468.52" y2="27.63"/>
<line x1="467.14" y1="23.64" x2="469.93" y2="25.4"/>
<text x="404.72" y="105.9" font-size="6.5" text-anchor="middle" transform="rotate(-57.75 404.72 105.9)">95</text>
<text x="418.79" y="83.59" font-size="6.5" text-anchor="middle" transform="rotate(-57.75 418.79 83.59)">100</text>
<text x="432.87" y="61.28" font-size="6.5" text-anchor="middle" transform="rotate(-57.75 432.87 61.28)">105</text>
<text x="446.94" y="38.97" font-size="6.5" text-anchor="middle" transform="rotate(-57.75 446.94 38.97)">110</text>
<text x="461.02" y="16.66" font-size="6.5" text-anchor="middle" transform="rotate(-57.75 461.02 16.66)">105</text>
<line x1="88.8" y1="405.64" x2="120.76" y2="425.8"/>
<line x1="182.68" y1="308.92" x2="214.16" y2="328.78"/>
<line x1="276.08" y1="211.89" x2="307.56" y2="231.75"/>
<line x1="369.48" y1="114.86" x2="400.96" y2="134.72"/>
<line x1="473.14" y1="24.3" x2="720.33" y2="24.3"/>
<line x1="477.89" y1="27.3" x2="725.08" y2="27.3"/>
<line x1="482.49" y1="30.2" x2="729.68" y2="30.2"/>
<line x1="487.24" y1="33.2" x2="734.43" y2="33.2"/>
<line x1="473.14" y1="24.3" x2="487.24" y2="33.2"/>
<line x1="720.33" y1="24.3" x2="734.43" y2="33.2"/>
<line x1="487.43" y1="30.2" x2="492.19" y2="33.2"/>
<line x1="487.78" y1="27.3" x2="497.13" y2="33.2"/>
<line x1="497.32" y1="30.2" x2="502.07" y2="33.2"/>
<line x1="497.67" y1="27.3" x2="507.02" y2="33.2"/>
<line x1="507.21" y1="30.2" x2="511.96" y2="33.2"/>
<line x1="507.55" y1="27.3" x2="516.91" y2="33.2"/>
<line x1="517.09" y1="30.2" x2="521.85" y2="33.2"/>
<line x1="517.44" y1="27.3" x2="526.79" y2="33.2"/>
<line x1="526.98" y1="30.2" x2="531.74" y2="33.2"/>
<line x1="522.57" y1="24.3" x2="536.68" y2="33.2"/>
<line x1="536.87" y1="30.2" x2="541.62" y2="33.2"/>
<line x1="537.22" y1="27.3" x2="546.57" y2="33.2"/>
<line x1="546.76" y1="30.2" x2="551.51" y2="33.2"/>
<line x1="547.1" y1="27.3" x2="556.46" y2="33.2"/>
<line x1="556.65" y1="30.2" x2="561.4" y2="33.2"/>
<line x1="556.99" y1="27.3" x2="566.34" y2="33.2"/>
<line x1="566.53" y1="30.2" x2="571.29" y2="33.2"/>
<line x1="566.88" y1="27.3" x2="576.23" y2="33.2"/>
<line x1="576.42" y1="30.2" x2="581.18" y2="33.2"/>
<line x1="572.01" y1="24.3" x2="586.12" y2="33.2"/>
<line x1="586.31" y1="30.2" x2="591.06" y2="33.2"/>
<line x1="586.66" y1="27.3" x2="596.01" y2="33.2"/>
<line x1="596.2" y1="30.2" x2="600.95" y2="33.2"/>
<line x1="596.54" y1="27.3" x2="605.89" y2="33.2"/>
<line x1="606.08" y1="30.2" x2="610.84" y2="33.2"/>
<line x1="606.43" y1="27.3" x2="615.78" y2="33.2"/>
<line x1="615.97" y1="30.2" x2="620.73" y2="33.2"/>
<line x1="616.32" y1="27.3" x2="625.67" y2="33.2"/>
<line x1="625.86" y1="30.2" x2="630.61" y2="33.2"/>
<line x1="621.45" y1="24.3" x2="635.56" y2="33.2"/>
<line x1="635.75" y1="30.2" x2="640.5" y2="33.2"/>
<line x1="636.09" y1="27.3" x2="645.44" y2="33.2"/>
<line x1="645.63" y1="30.2" x2="650.39" y2="33.2"/>
<line x1="645.98" y1="27.3" x2="655.33" y2="33.2"/>
<line x1="655.52" y1="30.2" x2="660.28" y2="33.2"/>
<line x1="655.87" y1="27.3" x2="665.22" y2="33.2"/>
<line x1="665.41" y1="30.2" x2="670.16" y2="33.2"/>
<line x1="665.76" y1="27.3" x2="675.11" y2="33.2"/>
<line x1="675.3" y1="30.2" x2="680.05" y2="33.2"/>
<line x1="670.89" y1="24.3" x2="685" y2="33.2"/>
<line x1="685.18" y1="30.2" x2="689.94" y2="33.2"/>
<line x1="685.53" y1="27.3" x2="694.88" y2="33.2"/>
<line x1="695.07" y1="30.2" x2="699.83" y2="33.2"/>
<line x1="695.42" y1="27.3" x2="704.77" y2="33.2"/>
<line x1="704.96" y1="30.2" x2="709.71" y2="33.2"/>
<line x1="705.31" y1="27.3" x2="714.66" y2="33.2"/>
<line x1="714.85" y1="30.2" x2="719.6" y2="33.2"/>
<line x1="715.19" y1="27.3" x2="724.55" y2="33.2"/>
<line x1="724.73" y1="30.2" x2="729.49" y2="33.2"/>
<line x1="462.88" y1="17.83" x2="487.24" y2="33.2"/>
<text x="522.57" y="21.7" font-size="6.5" text-anchor="middle">120</text>
<text x="572.01" y="21.7" font-size="6.5" text-anchor="middle">125</text>
<text x="621.45" y="21.7" font-size="6.5" text-anchor="middle">130</text>
<text x="670.89" y="21.7" font-size="6.5" text-anchor="middle">135</text>
<text x="720.33" y="21.7" font-size="6.5" text-anchor="middle">140</text>
<line x1="799.5" y1="543.72" x2="799.5" y2="387.77"/>
<line x1="796.6" y1="541.89" x2="796.6" y2="385.94"/>
<line x1="793.3" y1="539.81" x2="793.3" y2="383.85"/>
<line x1="789.6" y1="537.48" x2="789.6" y2="381.52"/>
<line x1="799.5" y1="543.72" x2="789.6" y2="537.48"/>
<line x1="799.5" y1="387.77" x2="789.6" y2="381.52"/>
<line x1="793.3" y1="536.69" x2="789.6" y2="534.36"/>
<line x1="796.6" y1="535.65" x2="789.6" y2="531.24"/>
<line x1="793.3" y1="530.45" x2="789.6" y2="528.12"/>
<line x1="796.6" y1="529.42" x2="789.6" y2="525"/>
<line x1="793.3" y1="524.21" x2="789.6" y2="521.88"/>
<line x1="796.6" y1="523.18" x2="789.6" y2="518.76"/>
<line x1="793.3" y1="517.98" x2="789.6" y2="515.64"/>
<line x1="796.6" y1="516.94" x2="789.6" y2="512.52"/>
<line x1="793.3" y1="511.74" x2="789.6" y2="509.4"/>
<line x1="799.5" y1="512.53" x2="789.6" y2="506.28"/>
<line x1="793.3" y1="505.5" x2="789.6" y2="503.17"/>
<line x1="796.6" y1="504.46" x2="789.6" y2="500.05"/>
<line x1="793.3" y1="499.26" x2="789.6" y2="496.93"/>
<line x1="796.6" y1="498.22" x2="789.6" y2="493.81"/>
<line x1="793.3" y1="493.02" x2="789.6" y2="490.69"/>
<line x1="796.6" y1="491.99" x2="789.6" y2="487.57"/>
<line x1="793.3" y1="486.78" x2="789.6" y2="484.45"/>
<line x1="796.6" y1="485.75" x2="789.6" y2="481.33"/>
<line x1="793.3" y1="480.55" x2="789.6" y2="478.21"/>
<line x1="799.5" y1="481.34" x2="789.6" y2="475.09"/>
<line x1="793.3" y1="474.31" x2="789.6" y2="471.97"/>
<line x1="796.6" y1="473.27" x2="789.6" y2="468.85"/>
<line x1="793.3" y1="468.07" x2="789.6" y2="465.74"/>
<line x1="796.6" y1="467.03" x2="789.6" y2="462.62"/>
<line x1="793.3" y1="461.83" x2="789.6" y2="459.5"/>
<line x1="796.6" y1="460.79" x2="789.6" y2="456.38"/>
<line x1="793.3" y1="455.59" x2="789.6" y2="453.26"/>
<line x1="796.6" y1="454.56" x2="789.6" y2="450.14"/>
<line x1="793.3" y1="449.36" x2="789.6" y2="447.02"/>
<line x1="799.5" y1="450.15" x2="789.6" y2="443.9"/>
<line x1="793.3" y1="443.12" x2="789.6" y2="440.78"/>
<line x1="796.6" y1="442.08" x2="789.6" y2="437.66"/>
<line x1="793.3" y1="436.88" x2="789.6" y2="434.54"/>
<line x1="796.6" y1="435.84" x2="789.6" y2="431.43"/>
<line x1="793.3" y1="430.64" x2="789.6" y2="428.31"/>
<line x1="796.6" y1="429.6" x2="789.6" y2="425.19"/>
<line x1="793.3" y1="424.4" x2="789.6" y2="422.07"/>
<line x1="796.6" y1="423.37" x2="789.6" y2="418.95"/>
<line x1="793.3" y1="418.16" x2="789.6" y2="415.83"/>
<line x1="799.5" y1="418.96" x2="789.6" y2="412.71"/>
<line x1="793.3" y1="411.93" x2="789.6" y2="409.59"/>
<line x1="796.6" y1="410.89" x2="789.6" y2="406.47"/>
<line x1="793.3" y1="405.69" x2="789.6" y2="403.35"/>
<line x1="796.6" y1="404.65" x2="789.6" y2="400.23"/>
<line x1="793.3" y1="399.45" x2="789.6" y2="397.11"/>
<line x1="796.6" y1="398.41" x2="789.6" y2="394"/>
<line x1="793.3" y1="393.21" x2="789.6" y2="390.88"/>
<line x1="796.6" y1="392.17" x2="789.6" y2="387.76"/>
<line x1="793.3" y1="386.97" x2="789.6" y2="384.64"/>
<text x="806.5" y="511.53" font-size="6.5" text-anchor="middle" transform="rotate(-90 806.5 511.53)">70</text>
<text x="806.5" y="480.34" font-size="6.5" text-anchor="middle" transform="rotate(-90 806.5 480.34)">75</text>
<text x="806.5" y="449.15" font-size="6.5" text-anchor="middle" transform="rotate(-90 806.5 449.15)">80</text>
<text x="806.5" y="417.96" font-size="6.5" text-anchor="middle" transform="rotate(-90 806.5 417.96)">85</text>
<line x1="810.8" y1="395.29" x2="810.8" y2="239.34"/>
<line x1="807.5" y1="393.21" x2="807.5" y2="237.26"/>
<line x1="804.5" y1="391.32" x2="804.5" y2="235.36"/>
<line x1="801.4" y1="389.36" x2="801.4" y2="233.41"/>
<line x1="810.8" y1="395.29" x2="801.4" y2="389.36"/>
<line x1="810.8" y1="239.34" x2="801.4" y2="233.41"/>
<line x1="804.5" y1="388.2" x2="801.4" y2="386.24"/>
<line x1="807.5" y1="386.97" x2="801.4" y2="383.13"/>
<line x1="804.5" y1="381.96" x2="801.4" y2="380.01"/>
<line x1="807.5" y1="380.74" x2="801.4" y2="376.89"/>
<line x1="804.5" y1="375.72" x2="801.4" y2="373.77"/>
<line x1="807.5" y1="374.5" x2="801.4" y2="370.65"/>
<line x1="804.5" y1="369.49" x2="801.4" y2="367.53"/>
<line x1="807.5" y1="368.26" x2="801.4" y2="364.41"/>
<line x1="804.5" y1="363.25" x2="801.4" y2="361.29"/>
<line x1="810.8" y1="364.1" x2="801.4" y2="358.17"/>
<line x1="804.5" y1="357.01" x2="801.4" y2="355.05"/>
<line x1="807.5" y1="355.78" x2="801.4" y2="351.93"/>
<line x1="804.5" y1="350.77" x2="801.4" y2="348.82"/>
<line x1="807.5" y1="349.54" x2="801.4" y2="345.7"/>
<line x1="804.5" y1="344.53" x2="801.4" y2="342.58"/>
<line x1="807.5" y1="343.31" x2="801.4" y2="339.46"/>
<line x1="804.5" y1="338.29" x2="801.4" y2="336.34"/>
<line x1="807.5" y1="337.07" x2="801.4" y2="333.22"/>
<line x1="804.5" y1="332.06" x2="801.4" y2="330.1"/>
<line x1="810.8" y1="332.91" x2="801.4" y2="326.98"/>
<line x1="804.5" y1="325.82" x2="801.4" y2="323.86"/>
<line x1="807.5" y1="324.59" x2="801.4" y2="320.74"/>
<line x1="804.5" y1="319.58" x2="801.4" y2="317.62"/>
<line x1="807.5" y1="318.35" x2="801.4" y2="314.5"/>
<line x1="804.5" y1="313.34" x2="801.4" y2="311.39"/>
<line x1="807.5" y1="312.12" x2="801.4" y2="308.27"/>
<line x1="804.5" y1="307.1" x2="801.4" y2="305.15"/>
<line x1="807.5" y1="305.88" x2="801.4" y2="302.03"/>
<line x1="804.5" y1="300.86" x2="801.4" y2="298.91"/>
<line x1="810.8" y1="301.72" x2="801.4" y2="295.79"/>
<line x1="804.5" y1="294.63" x2="801.4" y2="292.67"/>
<line x1="807.5" y1="293.4" x2="801.4" y2="289.55"/>
<line x1="804.5" y1="288.39" x2="801.4" y2="286.43"/>
<line x1="807.5" y1="287.16" x2="801.4" y2="283.31"/>
<line x1="804.5" y1="282.15" x2="801.4" y2="280.19"/>
<line x1="807.5" y1="280.92" x2="801.4" y2="277.08"/>
<line x1="804.5" y1="275.91" x2="801.4" y2="273.96"/>
<line x1="807.5" y1="274.69" x2="801.4" y2="270.84"/>
<line x1="804.5" y1="269.67" x2="801.4" y2="267.72"/>
<line x1="810.8" y1="270.53" x2="801.4" y2="264.6"/>
<line x1="804.5" y1="263.44" x2="801.4" y2="261.48"/>
<line x1="807.5" y1="262.21" x2="801.4" y2="258.36"/>
<line x1="804.5" y1="257.2" x2="801.4" y2="255.24"/>
<line x1="807.5" y1="255.97" x2="801.4" y2="252.12"/>
<line x1="804.5" y1="250.96" x2="801.4" y2="249"/>
<line x1="807.5" y1="249.73" x2="801.4" y2="245.88"/>
<line x1="804.5" y1="244.72" x2="801.4" y2="242.76"/>
<line x1="807.5" y1="243.49" x2="801.4" y2="239.65"/>
<line x1="804.5" y1="238.48" x2="801.4" y2="236.53"/>
<text x="817.8" y="396.29" font-size="6.5" text-anchor="middle" transform="rotate(-90 817.8 396.29)">90</text>
<text x="817.8" y="363.1" font-size="6.5" text-anchor="middle" transform="rotate(-90 817.8 363.1)">95</text>
<text x="817.8" y="331.91" font-size="6.5" text-anchor="middle" transform="rotate(-90 817.8 331.91)">100</text>
<text x="817.8" y="300.72" font-size="6.5" text-anchor="middle" transform="rotate(-90 817.8 300.72)">105</text>
<text x="817.8" y="269.53" font-size="6.5" text-anchor="middle" transform="rotate(-90 817.8 269.53)">110</text>
<line x1="822" y1="245.6" x2="822" y2="89.65"/>
<line x1="818.8" y1="243.59" x2="818.8" y2="87.63"/>
<line x1="815.8" y1="241.69" x2="815.8" y2="85.74"/>
<line x1="812.7" y1="239.74" x2="812.7" y2="83.78"/>
<line x1="822" y1="245.6" x2="812.7" y2="239.74"/>
<line x1="822" y1="89.65" x2="812.7" y2="83.78"/>
<line x1="815.8" y1="238.57" x2="812.7" y2="236.62"/>
<line x1="818.8" y1="237.35" x2="812.7" y2="233.5"/>
<line x1="815.8" y1="232.34" x2="812.7" y2="230.38"/>
<line x1="818.8" y1="231.11" x2="812.7" y2="227.26"/>
<line x1="815.8" y1="226.1" x2="812.7" y2="224.14"/>
<line x1="818.8" y1="224.87" x2="812.7" y2="221.02"/>
<line x1="815.8" y1="219.86" x2="812.7" y2="217.9"/>
<line x1="818.8" y1="218.63" x2="812.7" y2="214.78"/>
<line x1="815.8" y1="213.62" x2="812.7" y2="211.66"/>
<line x1="822" y1="214.41" x2="812.7" y2="208.55"/>
<line x1="815.8" y1="207.38" x2="812.7" y2="205.43"/>
<line x1="818.8" y1="206.16" x2="812.7" y2="202.31"/>
<line x1="815.8" y1="201.14" x2="812.7" y2="199.19"/>
<line x1="818.8" y1="199.92" x2="812.7" y2="196.07"/>
<line x1="815.8" y1="194.91" x2="812.7" y2="192.95"/>
<line x1="818.8" y1="193.68" x2="812.7" y2="189.83"/>
<line x1="815.8" y1="188.67" x2="812.7" y2="186.71"/>
<line x1="818.8" y1="187.44" x2="812.7" y2="183.59"/>
<line x1="815.8" y1="182.43" x2="812.7" y2="180.47"/>
<line x1="822" y1="183.22" x2="812.7" y2="177.35"/>
<line x1="815.8" y1="176.19" x2="812.7" y2="174.23"/>
<line x1="818.8" y1="174.96" x2="812.7" y2="171.12"/>
<line x1="815.8" y1="169.95" x2="812.7" y2="168"/>
<line x1="818.8" y1="168.73" x2="812.7" y2="164.88"/>
<line x1="815.8" y1="163.71" x2="812.7" y2="161.76"/>
<line x1="818.8" y1="162.49" x2="812.7" y2="158.64"/>
<line x1="815.8" y1="157.48" x2="812.7" y2="155.52"/>
<line x1="818.8" y1="156.25" x2="812.7" y2="152.4"/>
<line x1="815.8" y1="151.24" x2="812.7" y2="149.28"/>
<line x1="822" y1="152.03" x2="812.7" y2="146.16"/>
<line x1="815.8" y1="145" x2="812.7" y2="143.04"/>
<line x1="818.8" y1="143.77" x2="812.7" y2="139.92"/>
<line x1="815.8" y1="138.76" x2="812.7" y2="136.81"/>
<line x1="818.8" y1="137.53" x2="812.7" y2="133.69"/>
<line x1="815.8" y1="132.52" x2="812.7" y2="130.57"/>
<line x1="818.8" y1="131.3" x2="812.7" y2="127.45"/>
<line x1="815.8" y1="126.28" x2="812.7" y2="124.33"/>
<line x1="818.8" y1="125.06" x2="812.7" y2="121.21"/>
<line x1="815.8" y1="120.05" x2="812.7" y2="118.09"/>
<line x1="822" y1="120.84" x2="812.7" y2="114.97"/>
<line x1="815.8" y1="113.81" x2="812.7" y2="111.85"/>
<line x1="818.8" y1="112.58" x2="812.7" y2="108.73"/>
<line x1="815.8" y1="107.57" x2="812.7" y2="105.61"/>
<line x1="818.8" y1="106.34" x2="812.7" y2="102.49"/>
<line x1="815.8" y1="101.33" x2="812.7" y2="99.38"/>
<line x1="818.8" y1="100.11" x2="812.7" y2="96.26"/>
<line x1="815.8" y1="95.09" x2="812.7" y2="93.14"/>
<line x1="818.8" y1="93.87" x2="812.7" y2="90.02"/>
<line x1="815.8" y1="88.85" x2="812.7" y2="86.9"/>
<text x="829" y="246.6" font-size="6.5" text-anchor="middle" transform="rotate(-90 829 246.6)">115</text>
<text x="829" y="213.41" font-size="6.5" text-anchor="middle" transform="rotate(-90 829 213.41)">120</text>
<text x="829" y="182.22" font-size="6.5" text-anchor="middle" transform="rotate(-90 829 182.22)">125</text>
<text x="829" y="151.03" font-size="6.5" text-anchor="middle" transform="rotate(-90 829 151.03)">130</text>
<text x="829" y="119.84" font-size="6.5" text-anchor="middle" transform="rotate(-90 829 119.84)">135</text>
<text x="829" y="90.65" font-size="6.5" text-anchor="middle" transform="rotate(-90 829 90.65)">140</text>
<line x1="789.6" y1="381.52" x2="810.8" y2="395.29"/>
<line x1="801.4" y1="233.41" x2="822" y2="245.6"/>
<line x1="135.39" y1="591.5" x2="382.58" y2="591.5"/>
<line x1="130.64" y1="588.5" x2="377.83" y2="588.5"/>
<line x1="125.88" y1="585.5" x2="373.07" y2="585.5"/>
<line x1="121.13" y1="582.5" x2="368.32" y2="582.5"/>
<line x1="135.39" y1="591.5" x2="121.13" y2="582.5"/>
<line x1="382.58" y1="591.5" x2="368.32" y2="582.5"/>
<line x1="130.83" y1="585.5" x2="126.07" y2="582.5"/>
<line x1="140.53" y1="588.5" x2="131.02" y2="582.5"/>
<line x1="140.72" y1="585.5" x2="135.96" y2="582.5"/>
<line x1="150.41" y1="588.5" x2="140.9" y2="582.5"/>
<line x1="150.6" y1="585.5" x2="145.85" y2="582.5"/>
<line x1="160.3" y1="588.5" x2="150.79" y2="582.5"/>
<line x1="160.49" y1="585.5" x2="155.74" y2="582.5"/>
<line x1="170.19" y1="588.5" x2="160.68" y2="582.5"/>
<line x1="170.38" y1="585.5" x2="165.62" y2="582.5"/>
<line x1="184.83" y1="591.5" x2="170.57" y2="582.5"/>
<line x1="180.27" y1="585.5" x2="175.51" y2="582.5"/>
<line x1="189.96" y1="588.5" x2="180.45" y2="582.5"/>
<line x1="190.15" y1="585.5" x2="185.4" y2="582.5"/>
<line x1="199.85" y1="588.5" x2="190.34" y2="582.5"/>
<line x1="200.04" y1="585.5" x2="195.29" y2="582.5"/>
<line x1="209.74" y1="588.5" x2="200.23" y2="582.5"/>
<line x1="209.93" y1="585.5" x2="205.17" y2="582.5"/>
<line x1="219.63" y1="588.5" x2="210.12" y2="582.5"/>
<line x1="219.82" y1="585.5" x2="215.06" y2="582.5"/>
<line x1="234.27" y1="591.5" x2="220.01" y2="582.5"/>
<line x1="229.7" y1="585.5" x2="224.95" y2="582.5"/>
<line x1="239.4" y1="588.5" x2="229.89" y2="582.5"/>
<line x1="239.59" y1="585.5" x2="234.84" y2="582.5"/>
<line x1="249.29" y1="588.5" x2="239.78" y2="582.5"/>
<line x1="249.48" y1="585.5" x2="244.72" y2="582.5"/>
<line x1="259.18" y1="588.5" x2="249.67" y2="582.5"/>
<line x1="259.37" y1="585.5" x2="254.61" y2="582.5"/>
<line x1="269.07" y1="588.5" x2="259.56" y2="582.5"/>
<line x1="269.25" y1="585.5" x2="264.5" y2="582.5"/>
<line x1="283.71" y1="591.5" x2="269.44" y2="582.5"/>
<line x1="279.14" y1="585.5" x2="274.39" y2="582.5"/>
<line x1="288.84" y1="588.5" x2="279.33" y2="582.5"/>
<line x1="289.03" y1="585.5" x2="284.27" y2="582.5"/>
<line x1="298.73" y1="588.5" x2="289.22" y2="582.5"/>
<line x1="298.92" y1="585.5" x2="294.16" y2="582.5"/>
<line x1="308.62" y1="588.5" x2="299.11" y2="582.5"/>
<line x1="308.8" y1="585.5" x2="304.05" y2="582.5"/>
<line x1="318.5" y1="588.5" x2="308.99" y2="582.5"/>
<line x1="318.69" y1="585.5" x2="313.94" y2="582.5"/>
<line x1="333.15" y1="591.5" x2="318.88" y2="582.5"/>
<line x1="328.58" y1="585.5" x2="323.82" y2="582.5"/>
<line x1="338.28" y1="588.5" x2="328.77" y2="582.5"/>
<line x1="338.47" y1="585.5" x2="333.71" y2="582.5"/>
<line x1="348.17" y1="588.5" x2="338.66" y2="582.5"/>
<line x1="348.36" y1="585.5" x2="343.6" y2="582.5"/>
<line x1="358.05" y1="588.5" x2="348.54" y2="582.5"/>
<line x1="358.24" y1="585.5" x2="353.49" y2="582.5"/>
<line x1="367.94" y1="588.5" x2="358.43" y2="582.5"/>
<line x1="368.13" y1="585.5" x2="363.38" y2="582.5"/>
<text x="135.39" y="598.7" font-size="6.5" text-anchor="middle">-10</text>
<text x="184.83" y="598.7" font-size="6.5" text-anchor="middle">-5</text>
<text x="235.27" y="598.7" font-size="6.5" text-anchor="middle">0</text>
<text x="284.71" y="598.7" font-size="6.5" text-anchor="middle">5</text>
<text x="334.15" y="598.7" font-size="6.5" text-anchor="middle">10</text>
<text x="383.58" y="598.7" font-size="6.5" text-anchor="middle">15</text>
<line x1="366.33" y1="581.5" x2="613.52" y2="581.5"/>
<line x1="361.58" y1="578.5" x2="608.77" y2="578.5"/>
<line x1="356.82" y1="575.5" x2="604.01" y2="575.5"/>
<line x1="352.07" y1="572.5" x2="599.26" y2="572.5"/>
<line x1="366.33" y1="581.5" x2="352.07" y2="572.5"/>
<line x1="613.52" y1="581.5" x2="599.26" y2="572.5"/>
<line x1="361.77" y1="575.5" x2="357.01" y2="572.5"/>
<line x1="371.47" y1="578.5" x2="361.96" y2="572.5"/>
<line x1="371.66" y1="575.5" x2="366.9" y2="572.5"/>
<line x1="381.35" y1="578.5" x2="371.84" y2="572.5"/>
<line x1="381.54" y1="575.5" x2="376.79" y2="572.5"/>
<line x1="391.24" y1="578.5" x2="381.73" y2="572.5"/>
<line x1="391.43" y1="575.5" x2="386.68" y2="572.5"/>
<line x1="401.13" y1="578.5" x2="391.62" y2="572.5"/>
<line x1="401.32" y1="575.5" x2="396.56" y2="572.5"/>
<line x1="415.77" y1="581.5" x2="401.51" y2="572.5"/>
<line x1="411.21" y1="575.5" x2="406.45" y2="572.5"/>
<line x1="420.9" y1="578.5" x2="411.39" y2="572.5"/>
<line x1="421.09" y1="575.5" x2="416.34" y2="572.5"/>
<line x1="430.79" y1="578.5" x2="421.28" y2="572.5"/>
<line x1="430.98" y1="575.5" x2="426.23" y2="572.5"/>
<line x1="440.68" y1="578.5" x2="431.17" y2="572.5"/>
<line x1="440.87" y1="575.5" x2="436.11" y2="572.5"/>
<line x1="450.57" y1="578.5" x2="441.06" y2="572.5"/>
<line x1="450.76" y1="575.5" x2="446" y2="572.5"/>
<line x1="465.21" y1="581.5" x2="450.95" y2="572.5"/>
<line x1="460.64" y1="575.5" x2="455.89" y2="572.5"/>
<line x1="470.34" y1="578.5" x2="460.83" y2="572.5"/>
<line x1="470.53" y1="575.5" x2="465.78" y2="572.5"/>
<line x1="480.23" y1="578.5" x2="470.72" y2="572.5"/>
<line x1="480.42" y1="575.5" x2="475.66" y2="572.5"/>
<line x1="490.12" y1="578.5" x2="480.61" y2="572.5"/>
<line x1="490.31" y1="575.5" x2="485.55" y2="572.5"/>
<line x1="500.01" y1="578.5" x2="490.5" y2="572.5"/>
<line x1="500.19" y1="575.5" x2="495.44" y2="572.5"/>
<line x1="514.65" y1="581.5" x2="500.38" y2="572.5"/>
<line x1="510.08" y1="575.5" x2="505.33" y2="572.5"/>
<line x1="519.78" y1="578.5" x2="510.27" y2="572.5"/>
<line x1="519.97" y1="575.5" x2="515.21" y2="572.5"/>
<line x1="529.67" y1="578.5" x2="520.16" y2="572.5"/>
<line x1="529.86" y1="575.5" x2="525.1" y2="572.5"/>
<line x1="539.56" y1="578.5" x2="530.05" y2="572.5"/>
<line x1="539.74" y1="575.5" x2="534.99" y2="572.5"/>
<line x1="549.44" y1="578.5" x2="539.93" y2="572.5"/>
<line x1="549.63" y1="575.5" x2="544.88" y2="572.5"/>
<line x1="564.09" y1="581.5" x2="549.82" y2="572.5"/>
<line x1="559.52" y1="575.5" x2="554.76" y2="572.5"/>
<line x1="569.22" y1="578.5" x2="559.71" y2="572.5"/>
<line x1="569.41" y1="575.5" x2="564.65" y2="572.5"/>
<line x1="579.11" y1="578.5" x2="569.6" y2="572.5"/>
<line x1="579.3" y1="575.5" x2="574.54" y2="572.5"/>
<line x1="588.99" y1="578.5" x2="579.48" y2="572.5"/>
<line x1="589.18" y1="575.5" x2="584.43" y2="572.5"/>
<line x1="598.88" y1="578.5" x2="589.37" y2="572.5"/>
<line x1="599.07" y1="575.5" x2="594.32" y2="572.5"/>
<text x="412.47" y="588.7" font-size="6.5" text-anchor="start">-20</text>
<text x="466.41" y="588.7" font-size="6.5" text-anchor="middle">25</text>
<text x="515.85" y="588.7" font-size="6.5" text-anchor="middle">30</text>
<text x="565.29" y="588.7" font-size="6.5" text-anchor="middle">35</text>
<text x="612.72" y="588.7" font-size="6.5" text-anchor="middle">40</text>
<line x1="597.17" y1="572" x2="844.36" y2="572"/>
<line x1="592.09" y1="568.8" x2="839.28" y2="568.8"/>
<line x1="587.82" y1="566.1" x2="835.01" y2="566.1"/>
<line x1="583.69" y1="563.5" x2="830.88" y2="563.5"/>
<line x1="597.17" y1="572" x2="583.69" y2="563.5"/>
<line x1="844.36" y1="572" x2="830.88" y2="563.5"/>
<line x1="592.76" y1="566.1" x2="588.64" y2="563.5"/>
<line x1="601.98" y1="568.8" x2="593.58" y2="563.5"/>
<line x1="602.65" y1="566.1" x2="598.53" y2="563.5"/>
<line x1="611.87" y1="568.8" x2="603.47" y2="563.5"/>
<line x1="612.53" y1="566.1" x2="608.41" y2="563.5"/>
<line x1="621.76" y1="568.8" x2="613.36" y2="563.5"/>
<line x1="622.42" y1="566.1" x2="618.3" y2="563.5"/>
<line x1="631.65" y1="568.8" x2="623.24" y2="563.5"/>
<line x1="632.31" y1="566.1" x2="628.19" y2="563.5"/>
<line x1="646.6" y1="572" x2="633.13" y2="563.5"/>
<line x1="642.2" y1="566.1" x2="638.08" y2="563.5"/>
<line x1="651.42" y1="568.8" x2="643.02" y2="563.5"/>
<line x1="652.08" y1="566.1" x2="647.96" y2="563.5"/>
<line x1="661.31" y1="568.8" x2="652.91" y2="563.5"/>
<line x1="661.97" y1="566.1" x2="657.85" y2="563.5"/>
<line x1="671.2" y1="568.8" x2="662.79" y2="563.5"/>
<line x1="671.86" y1="566.1" x2="667.74" y2="563.5"/>
<line x1="681.08" y1="568.8" x2="672.68" y2="563.5"/>
<line x1="681.75" y1="566.1" x2="677.63" y2="563.5"/>
<line x1="696.04" y1="572" x2="682.57" y2="563.5"/>
<line x1="691.63" y1="566.1" x2="687.51" y2="563.5"/>
<line x1="700.86" y1="568.8" x2="692.46" y2="563.5"/>
<line x1="701.52" y1="566.1" x2="697.4" y2="563.5"/>
<line x1="710.75" y1="568.8" x2="702.35" y2="563.5"/>
<line x1="711.41" y1="566.1" x2="707.29" y2="563.5"/>
<line x1="720.63" y1="568.8" x2="712.23" y2="563.5"/>
<line x1="721.3" y1="566.1" x2="717.18" y2="563.5"/>
<line x1="730.52" y1="568.8" x2="722.12" y2="563.5"/>
<line x1="731.19" y1="566.1" x2="727.06" y2="563.5"/>
<line x1="745.48" y1="572" x2="732.01" y2="563.5"/>
<line x1="741.07" y1="566.1" x2="736.95" y2="563.5"/>
<line x1="750.3" y1="568.8" x2="741.9" y2="563.5"/>
<line x1="750.96" y1="566.1" x2="746.84" y2="563.5"/>
<line x1="760.18" y1="568.8" x2="751.78" y2="563.5"/>
<line x1="760.85" y1="566.1" x2="756.73" y2="563.5"/>
<line x1="770.07" y1="568.8" x2="761.67" y2="563.5"/>
<line x1="770.74" y1="566.1" x2="766.61" y2="563.5"/>
<line x1="779.96" y1="568.8" x2="771.56" y2="563.5"/>
<line x1="780.62" y1="566.1" x2="776.5" y2="563.5"/>
<line x1="794.92" y1="572" x2="781.45" y2="563.5"/>
<line x1="790.51" y1="566.1" x2="786.39" y2="563.5"/>
<line x1="799.73" y1="568.8" x2="791.33" y2="563.5"/>
<line x1="800.4" y1="566.1" x2="796.28" y2="563.5"/>
<line x1="809.62" y1="568.8" x2="801.22" y2="563.5"/>
<line x1="810.29" y1="566.1" x2="806.17" y2="563.5"/>
<line x1="819.51" y1="568.8" x2="811.11" y2="563.5"/>
<line x1="820.17" y1="566.1" x2="816.05" y2="563.5"/>
<line x1="829.4" y1="568.8" x2="821" y2="563.5"/>
<line x1="830.06" y1="566.1" x2="825.94" y2="563.5"/>
<text x="644.6" y="579.2" font-size="6.5" text-anchor="start">-45</text>
<text x="698.54" y="579.2" font-size="6.5" text-anchor="middle">50</text>
<text x="747.98" y="579.2" font-size="6.5" text-anchor="middle">55</text>
<text x="797.42" y="579.2" font-size="6.5" text-anchor="middle">60</text>
<text x="844.86" y="579.2" font-size="6.5" text-anchor="middle">65</text>
<line x1="382.58" y1="591.5" x2="352.07" y2="572.5"/>
<line x1="613.52" y1="581.5" x2="583.69" y2="563.5"/>
<line x1="789.6" y1="537.48" x2="844.36" y2="572"/>
<path d="M119.3 154.2 A102 102 0 0 0 119.3 358.2" fill="none"/>
<line x1="119.3" y1="154.2" x2="119.3" y2="358.2"/>
<line x1="101.92" y1="155.69" x2="103.68" y2="165.84"/>
<text x="103.54" y="171.39" font-size="6.5" text-anchor="middle">0.1</text>
<line x1="101.92" y1="356.71" x2="103.68" y2="346.56"/>
<text x="103.54" y="345.61" font-size="6.5" text-anchor="middle">0.1</text>
<line x1="82.32" y1="161.14" x2="86.06" y2="170.74"/>
<text x="85.35" y="177.21" font-size="6.5" text-anchor="middle">0.2</text>
<line x1="82.32" y1="351.26" x2="86.06" y2="341.66"/>
<text x="86.15" y="340.89" font-size="6.5" text-anchor="middle">0.2</text>
<line x1="62.71" y1="171.34" x2="69.37" y2="181.32"/>
<text x="66.46" y="186.85" font-size="6.5" text-anchor="middle">0.3</text>
<line x1="62.71" y1="341.06" x2="69.37" y2="331.08"/>
<text x="67.96" y="331.25" font-size="6.5" text-anchor="middle">0.3</text>
<line x1="45.87" y1="185.41" x2="54.51" y2="193.74"/>
<text x="57.98" y="198.33" font-size="6.5" text-anchor="middle">0.4</text>
<line x1="45.87" y1="326.99" x2="54.51" y2="318.66"/>
<text x="56.88" y="320.57" font-size="6.5" text-anchor="middle">0.4</text>
<line x1="33.49" y1="201.05" x2="43.59" y2="207.54"/>
<text x="48.26" y="211.62" font-size="6.5" text-anchor="middle">0.5</text>
<line x1="33.49" y1="311.35" x2="43.59" y2="304.86"/>
<text x="47.46" y="308.38" font-size="6.5" text-anchor="middle">0.5</text>
<line x1="25.54" y1="216.03" x2="36.57" y2="220.75"/>
<text x="40.31" y="224.35" font-size="6.5" text-anchor="middle">0.6</text>
<line x1="25.54" y1="296.37" x2="36.57" y2="291.65"/>
<text x="40.31" y="295.25" font-size="6.5" text-anchor="middle">0.6</text>
<line x1="20.96" y1="229.11" x2="32.53" y2="232.3"/>
<text x="35.71" y="235.48" font-size="6.5" text-anchor="middle">0.7</text>
<line x1="20.96" y1="283.29" x2="32.53" y2="280.1"/>
<text x="35.71" y="283.42" font-size="6.5" text-anchor="middle">0.7</text>
<line x1="18.59" y1="240.02" x2="28.76" y2="241.65"/>
<text x="33.7" y="244.75" font-size="6.5" text-anchor="middle">0.8</text>
<line x1="18.59" y1="272.38" x2="28.76" y2="270.75"/>
<text x="33.7" y="273.25" font-size="6.5" text-anchor="middle">0.8</text>
<line x1="17.56" y1="248.93" x2="27.83" y2="249.67"/>
<text x="32.82" y="252.32" font-size="6.5" text-anchor="middle">0.9</text>
<line x1="17.56" y1="263.47" x2="27.83" y2="262.73"/>
<text x="32.82" y="265.18" font-size="6.5" text-anchor="middle">0.9</text>
<line x1="17.3" y1="256.2" x2="27.6" y2="256.2"/>
<text x="32.6" y="258.5" font-size="6.5" text-anchor="middle">1.0</text>
<text x="117.6" y="168.5" font-size="6.5" text-anchor="middle">0</text>
<text x="117.6" y="348.5" font-size="6.5" text-anchor="middle">0</text>
<line x1="112.3" y1="256.2" x2="119.3" y2="256.2"/>
<text x="138.2" y="53.9" class="t" style="font-family:'Liberation Serif',serif" font-weight="bold" font-size="19.3" text-anchor="middle" textLength="57.4" lengthAdjust="spacingAndGlyphs">CIBSE</text>
<text x="139.3" y="78.8" class="t" font-weight="bold" font-size="15.3" text-anchor="middle" textLength="131.7" lengthAdjust="spacingAndGlyphs">PSYCHROMETRIC</text>
<text x="139.4" y="97.8" class="t" font-weight="bold" font-size="15.3" text-anchor="middle" textLength="51.2" lengthAdjust="spacingAndGlyphs">CHART</text>
<text x="180.8" y="154" font-size="8" class="sb" textLength="100.2" lengthAdjust="spacingAndGlyphs">BASED ON A BAROMETRIC</text>
<text x="180.8" y="163" font-size="8" class="sb" textLength="101.1" lengthAdjust="spacingAndGlyphs">PRESSURE OF 101.325  kPa</text>
<text x="78.6" y="252.6" font-size="6.2" text-anchor="middle" textLength="65" lengthAdjust="spacingAndGlyphs">SENSIBLE/TOTAL HEAT</text>
<text x="78.6" y="260.1" font-size="6.2" text-anchor="middle" textLength="52" lengthAdjust="spacingAndGlyphs">RATIO FOR WATER</text>
<text x="78.6" y="267.8" font-size="6.2" text-anchor="middle" textLength="44" lengthAdjust="spacingAndGlyphs">ADDED AT 30°C</text>
<text x="618" y="54" font-size="8" text-anchor="middle" class="sb" textLength="102" lengthAdjust="spacingAndGlyphs">PERCENTAGE SATURATION</text>
<text x="461" y="562" font-size="8" text-anchor="middle" class="sb" textLength="118" lengthAdjust="spacingAndGlyphs">DRY – BULB TEMPERATURE  °C</text>
<text x="489.6" y="597.4" font-size="8" text-anchor="middle" class="sb" textLength="103.6" lengthAdjust="spacingAndGlyphs">SPECIFIC  ENTHALPY  kJ/kg</text>
<text x="790.6" y="322.5" font-size="7.4" text-anchor="middle" transform="rotate(-90 790.6 322.5)" class="rt" textLength="105" lengthAdjust="spacing">MOISTURE  CONTENT  kg/kg</text>
<text x="329.4" y="260.3" font-size="7.2" text-anchor="middle" transform="rotate(-20.1 329.4 260.3)" class="rt" textLength="94" lengthAdjust="spacing">SPECIFIC VOLUME  m<tspan font-size="5" dy="-2.5">3</tspan><tspan dy="2.5">/kg</tspan></text>
<text x="283.8" y="370.3" font-size="7.2" text-anchor="middle" transform="rotate(-46.2 283.8 370.3)" class="rt" textLength="138.6" lengthAdjust="spacing">WET-BULB TEMPERATURE °C (SLING)</text>
<text x="227.2" y="260.4" font-size="7.2" text-anchor="middle" transform="rotate(-57.6 227.2 260.4)" class="rt" textLength="102.5" lengthAdjust="spacing">SPECIFIC  ENTHALPY  kJ/kg</text>
</g>
</svg>
</body></html>
